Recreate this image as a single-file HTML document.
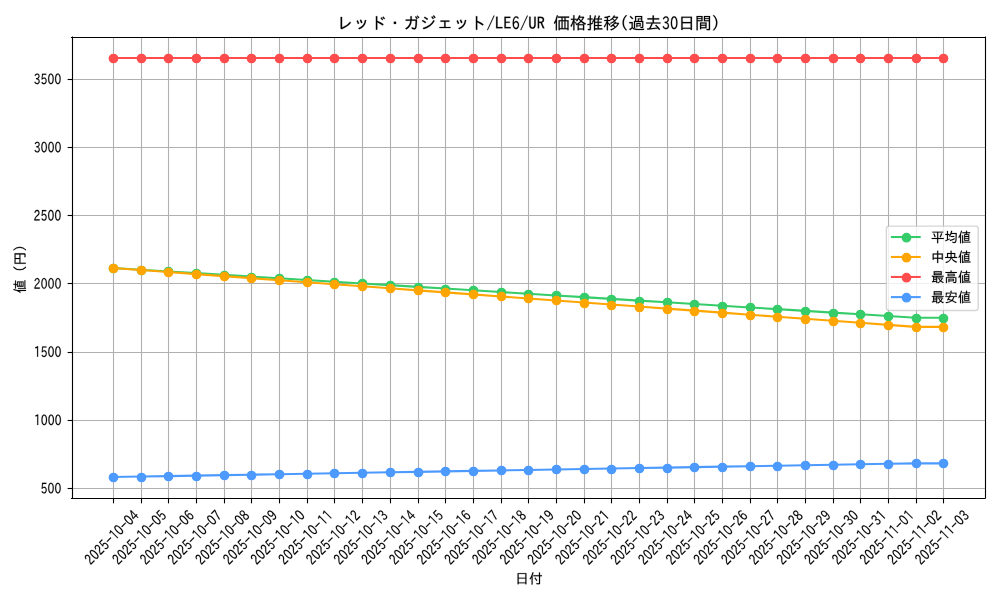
<!DOCTYPE html><html><head><meta charset="utf-8"><style>html,body{margin:0;padding:0;background:#fff;font-family:"Liberation Sans",sans-serif;}svg{display:block}g[id^="text_"] use{stroke:#000;stroke-width:80}</style></head><body><svg width="1000" height="600" viewBox="0 0 720 432" version="1.1"> <defs> <style type="text/css">*{stroke-linejoin: round; stroke-linecap: butt}</style> </defs> <g id="figure_1"> <g id="patch_1"> <path d="M 0 432 L 720 432 L 720 0 L 0 0 z " style="fill: #ffffff"/> </g> <g id="axes_1"> <g id="patch_2"> <path d="M 51.4944 358.56 L 709.1712 358.56 L 709.1712 26.640144 L 51.4944 26.640144 z " style="fill: #ffffff"/> </g> <g id="matplotlib.axis_1"> <g id="xtick_1"> <g id="line2d_1"> <path d="M 81.7200 358.56 L 81.7200 26.640144 " clip-path="url(#p025470a031)" style="fill: none; stroke: #b0b0b0; stroke-width: 0.8; stroke-linecap: square"/> </g> <g id="line2d_2"> <defs> <path id="m0153b6472b" d="M 0 0 L 0 3.5 " style="stroke: #000000; stroke-width: 0.8"/> </defs> <g> <use href="#m0153b6472b" x="81.7200" y="358.9200" style="stroke: #000000; stroke-width: 0.8"/> </g> </g> <g id="text_1"> <!-- 2025-10-04 --> <g transform="translate(65.2262 407.1366) rotate(-45) scale(0.1 -0.1)"> <defs> <path id="IPAGothic-32" d="M2795.75 65.625H354.25V623.4375Q641.625 1548.75 1453.875 2313.28125L1589.25 2437.96875Q2004.875 2831.71875 2135.5 3051.5625Q2285.125 3307.5 2285.125 3615.9375Q2285.125 3957.1875 2109.375 4200.0Q1914.625 4469.0625 1598.75 4469.0625Q964.625 4469.0625 767.5 3494.53125L392.25 3681.5625Q663.0 4961.25 1622.5 4961.25Q2147.375 4961.25 2458.5 4531.40625Q2731.625 4144.21875 2731.625 3596.25Q2731.625 3189.375 2555.875 2857.96875Q2394.375 2536.40625 1812.5 2034.375L1710.375 1949.0625Q969.375 1315.78125 758.0 597.1875H2795.75Z" transform="scale(0.015625)"/> <path id="IPAGothic-30" d="M1617.0 4961.25Q2258.25 4961.25 2602.625 4140.9375Q2875.75 3491.25 2875.75 2460.9375Q2875.75 1440.46875 2602.625 777.65625Q2263.0 -32.8125 1600.375 -32.8125Q940.125 -32.8125 600.5 777.65625Q327.375 1440.46875 327.375 2467.5Q327.375 3898.125 828.5 4551.09375Q1146.75 4961.25 1617.0 4961.25ZM1600.375 4475.625Q1220.375 4475.625 1001.875 3944.0625Q778.625 3405.9375 778.625 2457.65625Q778.625 1529.0625 997.125 994.21875Q1218.0 469.21875 1600.375 469.21875Q2058.75 469.21875 2279.625 1207.5Q2424.5 1702.96875 2424.5 2493.75Q2424.5 3415.78125 2201.25 3944.0625Q1975.625 4475.625 1600.375 4475.625Z" transform="scale(0.015625)"/> <path id="IPAGothic-35" d="M953.75 2733.28125Q1300.5 3110.625 1709.0 3110.625Q2198.25 3110.625 2521.25 2654.53125Q2822.875 2218.125 2822.875 1571.71875Q2822.875 984.375 2564.0 538.125Q2238.625 -32.8125 1602.125 -32.8125Q787.5 -32.8125 414.625 823.59375L770.875 1079.53125Q1053.5 456.09375 1587.875 456.09375Q1932.25 456.09375 2162.625 751.40625Q2400.125 1063.125 2400.125 1578.28125Q2400.125 2063.90625 2191.125 2352.65625Q1972.625 2654.53125 1621.125 2654.53125Q1127.125 2654.53125 873.0 2129.53125L507.25 2195.15625L730.5 4866.09375H2647.125V4360.78125H1077.25L920.5 2733.28125Z" transform="scale(0.015625)"/> <path id="IPAGothic-2d" d="M 313 2663 L 2884 2663 L 2884 2203 L 313 2203 L 313 2663 z " transform="scale(0.015625)"/> <path id="IPAGothic-31" d="M2030.375 65.625H1602.875V4308.28125Q1201.5 4117.96875 757.375 3986.71875L679.0 4442.8125Q1315.5 4662.65625 1759.625 4964.53125H2030.375Z" transform="scale(0.015625)"/> <path id="IPAGothic-34" d="M2973.9375 1217.34375H2399.1875V65.625H2009.6875V1217.34375H226.0625V1755.46875L1940.8125 4912.03125H2399.1875V1716.09375H2973.9375ZM2033.4375 4314.84375H2019.1875Q1807.8125 3842.34375 1596.4375 3448.59375L653.5625 1716.09375H2009.6875V3300.9375Q2009.6875 3645.46875 2033.4375 4314.84375Z" transform="scale(0.015625)"/> </defs> <use href="#IPAGothic-32"/> <use href="#IPAGothic-30" transform="translate(50 0)"/> <use href="#IPAGothic-32" transform="translate(100 0)"/> <use href="#IPAGothic-35" transform="translate(150 0)"/> <use href="#IPAGothic-2d" transform="translate(200 0)"/> <use href="#IPAGothic-31" transform="translate(250 0)"/> <use href="#IPAGothic-30" transform="translate(300 0)"/> <use href="#IPAGothic-2d" transform="translate(350 0)"/> <use href="#IPAGothic-30" transform="translate(400 0)"/> <use href="#IPAGothic-34" transform="translate(450 0)"/> </g> </g> </g> <g id="xtick_2"> <g id="line2d_3"> <path d="M 101.8800 358.56 L 101.8800 26.640144 " clip-path="url(#p025470a031)" style="fill: none; stroke: #b0b0b0; stroke-width: 0.8; stroke-linecap: square"/> </g> <g id="line2d_4"> <g> <use href="#m0153b6472b" x="101.8800" y="358.9200" style="stroke: #000000; stroke-width: 0.8"/> </g> </g> <g id="text_2"> <!-- 2025-10-05 --> <g transform="translate(85.1558 407.1366) rotate(-45) scale(0.1 -0.1)"> <use href="#IPAGothic-32"/> <use href="#IPAGothic-30" transform="translate(50 0)"/> <use href="#IPAGothic-32" transform="translate(100 0)"/> <use href="#IPAGothic-35" transform="translate(150 0)"/> <use href="#IPAGothic-2d" transform="translate(200 0)"/> <use href="#IPAGothic-31" transform="translate(250 0)"/> <use href="#IPAGothic-30" transform="translate(300 0)"/> <use href="#IPAGothic-2d" transform="translate(350 0)"/> <use href="#IPAGothic-30" transform="translate(400 0)"/> <use href="#IPAGothic-35" transform="translate(450 0)"/> </g> </g> </g> <g id="xtick_3"> <g id="line2d_5"> <path d="M 121.3200 358.56 L 121.3200 26.640144 " clip-path="url(#p025470a031)" style="fill: none; stroke: #b0b0b0; stroke-width: 0.8; stroke-linecap: square"/> </g> <g id="line2d_6"> <g> <use href="#m0153b6472b" x="121.3200" y="358.9200" style="stroke: #000000; stroke-width: 0.8"/> </g> </g> <g id="text_3"> <!-- 2025-10-06 --> <g transform="translate(105.0854 407.1366) rotate(-45) scale(0.1 -0.1)"> <defs> <path id="IPAGothic-36" d="M834.3125 2444.53125Q1178.6875 3130.3125 1729.6875 3130.3125Q2240.3125 3130.3125 2551.4375 2638.125Q2824.5625 2211.5625 2824.5625 1597.96875Q2824.5625 928.59375 2518.1875 456.09375Q2199.9375 -32.8125 1686.9375 -32.8125Q1076.5625 -32.8125 732.1875 610.3125Q397.3125 1237.03125 397.3125 2339.53125Q397.3125 3596.25 801.0625 4314.84375Q1166.8125 4961.25 1758.1875 4961.25Q2456.4375 4961.25 2774.6875 4226.25L2425.5625 3963.75Q2230.8125 4475.625 1779.5625 4475.625Q881.8125 4475.625 815.3125 2444.53125ZM1658.4375 2674.21875Q1311.6875 2674.21875 1083.6875 2316.5625Q879.4375 1995.0 879.4375 1617.65625Q879.4375 1214.0625 1059.9375 885.9375Q1302.1875 449.53125 1672.6875 449.53125Q2059.8125 449.53125 2266.4375 885.9375Q2406.5625 1184.53125 2406.5625 1578.28125Q2406.5625 2040.9375 2221.3125 2339.53125Q2007.5625 2674.21875 1658.4375 2674.21875Z" transform="scale(0.015625)"/> </defs> <use href="#IPAGothic-32"/> <use href="#IPAGothic-30" transform="translate(50 0)"/> <use href="#IPAGothic-32" transform="translate(100 0)"/> <use href="#IPAGothic-35" transform="translate(150 0)"/> <use href="#IPAGothic-2d" transform="translate(200 0)"/> <use href="#IPAGothic-31" transform="translate(250 0)"/> <use href="#IPAGothic-30" transform="translate(300 0)"/> <use href="#IPAGothic-2d" transform="translate(350 0)"/> <use href="#IPAGothic-30" transform="translate(400 0)"/> <use href="#IPAGothic-36" transform="translate(450 0)"/> </g> </g> </g> <g id="xtick_4"> <g id="line2d_7"> <path d="M 141.4800 358.56 L 141.4800 26.640144 " clip-path="url(#p025470a031)" style="fill: none; stroke: #b0b0b0; stroke-width: 0.8; stroke-linecap: square"/> </g> <g id="line2d_8"> <g> <use href="#m0153b6472b" x="141.4800" y="358.9200" style="stroke: #000000; stroke-width: 0.8"/> </g> </g> <g id="text_4"> <!-- 2025-10-07 --> <g transform="translate(125.0150 407.1366) rotate(-45) scale(0.1 -0.1)"> <defs> <path id="IPAGothic-37" d="M2802.5625 4475.625Q1769.4375 2211.5625 1420.3125 65.625H928.6875Q1273.0625 1929.375 2310.9375 4334.53125H394.3125V4866.09375H2802.5625Z" transform="scale(0.015625)"/> </defs> <use href="#IPAGothic-32"/> <use href="#IPAGothic-30" transform="translate(50 0)"/> <use href="#IPAGothic-32" transform="translate(100 0)"/> <use href="#IPAGothic-35" transform="translate(150 0)"/> <use href="#IPAGothic-2d" transform="translate(200 0)"/> <use href="#IPAGothic-31" transform="translate(250 0)"/> <use href="#IPAGothic-30" transform="translate(300 0)"/> <use href="#IPAGothic-2d" transform="translate(350 0)"/> <use href="#IPAGothic-30" transform="translate(400 0)"/> <use href="#IPAGothic-37" transform="translate(450 0)"/> </g> </g> </g> <g id="xtick_5"> <g id="line2d_9"> <path d="M 161.6400 358.56 L 161.6400 26.640144 " clip-path="url(#p025470a031)" style="fill: none; stroke: #b0b0b0; stroke-width: 0.8; stroke-linecap: square"/> </g> <g id="line2d_10"> <g> <use href="#m0153b6472b" x="161.6400" y="358.9200" style="stroke: #000000; stroke-width: 0.8"/> </g> </g> <g id="text_5"> <!-- 2025-10-08 --> <g transform="translate(144.9446 407.1366) rotate(-45) scale(0.1 -0.1)"> <defs> <path id="IPAGothic-38" d="M1994.625 2546.25Q2875.75 2132.8125 2875.75 1256.71875Q2875.75 567.65625 2419.75 206.71875Q2087.25 -59.0625 1595.625 -59.0625Q1101.625 -59.0625 769.125 206.71875Q327.375 557.8125 327.375 1237.03125Q327.375 2086.875 1134.875 2500.3125V2520.0Q429.5 2871.09375 429.5 3681.5625Q429.5 4305.0 809.5 4679.0625Q1132.5 4994.0625 1598.0 4994.0625Q2118.125 4994.0625 2443.5 4623.28125Q2764.125 4272.1875 2764.125 3743.90625Q2764.125 2841.5625 1994.625 2565.9375ZM1602.75 2756.25Q2341.375 2999.0625 2341.375 3704.53125Q2341.375 4111.40625 2096.75 4357.5Q1897.25 4564.21875 1595.625 4564.21875Q1284.5 4564.21875 1075.5 4334.53125Q861.75 4091.71875 861.75 3694.6875Q861.75 3304.21875 1092.125 3071.25Q1199.0 2949.84375 1372.375 2854.6875Q1552.875 2752.96875 1595.625 2752.96875Q1598.0 2752.96875 1602.75 2756.25ZM1567.125 2316.5625Q764.375 2024.53125 764.375 1276.40625Q764.375 813.75 1061.25 584.0625Q1284.5 410.15625 1590.875 410.15625Q2020.75 410.15625 2253.5 731.71875Q2424.5 967.96875 2424.5 1309.21875Q2424.5 1670.15625 2184.625 1939.21875Q2046.875 2090.15625 1849.75 2201.71875Q1638.375 2316.5625 1576.625 2316.5625Q1571.875 2316.5625 1567.125 2316.5625Z" transform="scale(0.015625)"/> </defs> <use href="#IPAGothic-32"/> <use href="#IPAGothic-30" transform="translate(50 0)"/> <use href="#IPAGothic-32" transform="translate(100 0)"/> <use href="#IPAGothic-35" transform="translate(150 0)"/> <use href="#IPAGothic-2d" transform="translate(200 0)"/> <use href="#IPAGothic-31" transform="translate(250 0)"/> <use href="#IPAGothic-30" transform="translate(300 0)"/> <use href="#IPAGothic-2d" transform="translate(350 0)"/> <use href="#IPAGothic-30" transform="translate(400 0)"/> <use href="#IPAGothic-38" transform="translate(450 0)"/> </g> </g> </g> <g id="xtick_6"> <g id="line2d_11"> <path d="M 181.0800 358.56 L 181.0800 26.640144 " clip-path="url(#p025470a031)" style="fill: none; stroke: #b0b0b0; stroke-width: 0.8; stroke-linecap: square"/> </g> <g id="line2d_12"> <g> <use href="#m0153b6472b" x="181.0800" y="358.9200" style="stroke: #000000; stroke-width: 0.8"/> </g> </g> <g id="text_6"> <!-- 2025-10-09 --> <g transform="translate(164.9060 407.0730) rotate(-45) scale(0.1 -0.1)"> <defs> <path id="IPAGothic-39" d="M2393.8125 2474.0625Q2058.9375 1801.40625 1503.1875 1801.40625Q1078.0625 1801.40625 769.3125 2159.0625Q403.5625 2582.34375 403.5625 3320.625Q403.5625 4003.125 709.9375 4478.90625Q1023.4375 4961.25 1545.9375 4961.25Q2253.6875 4961.25 2588.5625 4147.5Q2830.8125 3547.03125 2830.8125 2595.46875Q2830.8125 1312.5 2436.5625 616.875Q2066.0625 -32.8125 1469.9375 -32.8125Q778.8125 -32.8125 422.5625 738.28125L774.0625 1000.78125Q1004.4375 449.53125 1458.0625 449.53125Q2346.3125 449.53125 2412.8125 2474.0625ZM1560.1875 4492.03125Q1227.6875 4492.03125 1016.3125 4147.5Q826.3125 3835.78125 826.3125 3360.0Q826.3125 2877.65625 1006.8125 2602.03125Q1215.8125 2270.625 1574.4375 2270.625Q1973.4375 2270.625 2199.0625 2700.46875Q2348.6875 2989.21875 2348.6875 3327.1875Q2348.6875 3730.78125 2172.9375 4055.625Q1930.6875 4492.03125 1560.1875 4492.03125Z" transform="scale(0.015625)"/> </defs> <use href="#IPAGothic-32"/> <use href="#IPAGothic-30" transform="translate(50 0)"/> <use href="#IPAGothic-32" transform="translate(100 0)"/> <use href="#IPAGothic-35" transform="translate(150 0)"/> <use href="#IPAGothic-2d" transform="translate(200 0)"/> <use href="#IPAGothic-31" transform="translate(250 0)"/> <use href="#IPAGothic-30" transform="translate(300 0)"/> <use href="#IPAGothic-2d" transform="translate(350 0)"/> <use href="#IPAGothic-30" transform="translate(400 0)"/> <use href="#IPAGothic-39" transform="translate(450 0)"/> </g> </g> </g> <g id="xtick_7"> <g id="line2d_13"> <path d="M 201.2400 358.56 L 201.2400 26.640144 " clip-path="url(#p025470a031)" style="fill: none; stroke: #b0b0b0; stroke-width: 0.8; stroke-linecap: square"/> </g> <g id="line2d_14"> <g> <use href="#m0153b6472b" x="201.2400" y="358.9200" style="stroke: #000000; stroke-width: 0.8"/> </g> </g> <g id="text_7"> <!-- 2025-10-10 --> <g transform="translate(184.8356 407.0730) rotate(-45) scale(0.1 -0.1)"> <use href="#IPAGothic-32"/> <use href="#IPAGothic-30" transform="translate(50 0)"/> <use href="#IPAGothic-32" transform="translate(100 0)"/> <use href="#IPAGothic-35" transform="translate(150 0)"/> <use href="#IPAGothic-2d" transform="translate(200 0)"/> <use href="#IPAGothic-31" transform="translate(250 0)"/> <use href="#IPAGothic-30" transform="translate(300 0)"/> <use href="#IPAGothic-2d" transform="translate(350 0)"/> <use href="#IPAGothic-31" transform="translate(400 0)"/> <use href="#IPAGothic-30" transform="translate(450 0)"/> </g> </g> </g> <g id="xtick_8"> <g id="line2d_15"> <path d="M 221.4000 358.56 L 221.4000 26.640144 " clip-path="url(#p025470a031)" style="fill: none; stroke: #b0b0b0; stroke-width: 0.8; stroke-linecap: square"/> </g> <g id="line2d_16"> <g> <use href="#m0153b6472b" x="221.4000" y="358.9200" style="stroke: #000000; stroke-width: 0.8"/> </g> </g> <g id="text_8"> <!-- 2025-10-11 --> <g transform="translate(204.7652 407.0730) rotate(-45) scale(0.1 -0.1)"> <use href="#IPAGothic-32"/> <use href="#IPAGothic-30" transform="translate(50 0)"/> <use href="#IPAGothic-32" transform="translate(100 0)"/> <use href="#IPAGothic-35" transform="translate(150 0)"/> <use href="#IPAGothic-2d" transform="translate(200 0)"/> <use href="#IPAGothic-31" transform="translate(250 0)"/> <use href="#IPAGothic-30" transform="translate(300 0)"/> <use href="#IPAGothic-2d" transform="translate(350 0)"/> <use href="#IPAGothic-31" transform="translate(400 0)"/> <use href="#IPAGothic-31" transform="translate(450 0)"/> </g> </g> </g> <g id="xtick_9"> <g id="line2d_17"> <path d="M 240.8400 358.56 L 240.8400 26.640144 " clip-path="url(#p025470a031)" style="fill: none; stroke: #b0b0b0; stroke-width: 0.8; stroke-linecap: square"/> </g> <g id="line2d_18"> <g> <use href="#m0153b6472b" x="240.8400" y="358.9200" style="stroke: #000000; stroke-width: 0.8"/> </g> </g> <g id="text_9"> <!-- 2025-10-12 --> <g transform="translate(224.6630 407.1366) rotate(-45) scale(0.1 -0.1)"> <use href="#IPAGothic-32"/> <use href="#IPAGothic-30" transform="translate(50 0)"/> <use href="#IPAGothic-32" transform="translate(100 0)"/> <use href="#IPAGothic-35" transform="translate(150 0)"/> <use href="#IPAGothic-2d" transform="translate(200 0)"/> <use href="#IPAGothic-31" transform="translate(250 0)"/> <use href="#IPAGothic-30" transform="translate(300 0)"/> <use href="#IPAGothic-2d" transform="translate(350 0)"/> <use href="#IPAGothic-31" transform="translate(400 0)"/> <use href="#IPAGothic-32" transform="translate(450 0)"/> </g> </g> </g> <g id="xtick_10"> <g id="line2d_19"> <path d="M 261.0000 358.56 L 261.0000 26.640144 " clip-path="url(#p025470a031)" style="fill: none; stroke: #b0b0b0; stroke-width: 0.8; stroke-linecap: square"/> </g> <g id="line2d_20"> <g> <use href="#m0153b6472b" x="261.0000" y="358.9200" style="stroke: #000000; stroke-width: 0.8"/> </g> </g> <g id="text_10"> <!-- 2025-10-13 --> <g transform="translate(244.5926 407.1366) rotate(-45) scale(0.1 -0.1)"> <defs> <path id="IPAGothic-33" d="M1961.875 2539.6875Q2816.875 2329.6875 2816.875 1345.3125Q2816.875 751.40625 2529.5 377.34375Q2211.25 -32.8125 1629.375 -32.8125Q757.75 -32.8125 370.625 925.3125L726.875 1187.8125Q995.25 462.65625 1624.625 462.65625Q1995.125 462.65625 2199.375 725.15625Q2394.125 974.53125 2394.125 1358.4375Q2394.125 1804.6875 2102.0 2077.03125Q1836.0 2326.40625 1401.375 2326.40625H1187.625V2802.1875H1410.875Q1847.875 2802.1875 2078.25 3031.875Q2325.25 3274.6875 2325.25 3684.84375Q2325.25 4131.09375 2047.375 4344.375Q1869.25 4492.03125 1619.875 4492.03125Q1090.25 4492.03125 838.5 3757.03125L482.25 3993.28125Q831.375 4961.25 1624.625 4961.25Q2125.75 4961.25 2436.875 4610.15625Q2748.0 4272.1875 2748.0 3711.09375Q2748.0 3179.53125 2446.375 2841.5625Q2251.625 2625.0 1961.875 2565.9375Z" transform="scale(0.015625)"/> </defs> <use href="#IPAGothic-32"/> <use href="#IPAGothic-30" transform="translate(50 0)"/> <use href="#IPAGothic-32" transform="translate(100 0)"/> <use href="#IPAGothic-35" transform="translate(150 0)"/> <use href="#IPAGothic-2d" transform="translate(200 0)"/> <use href="#IPAGothic-31" transform="translate(250 0)"/> <use href="#IPAGothic-30" transform="translate(300 0)"/> <use href="#IPAGothic-2d" transform="translate(350 0)"/> <use href="#IPAGothic-31" transform="translate(400 0)"/> <use href="#IPAGothic-33" transform="translate(450 0)"/> </g> </g> </g> <g id="xtick_11"> <g id="line2d_21"> <path d="M 281.1600 358.56 L 281.1600 26.640144 " clip-path="url(#p025470a031)" style="fill: none; stroke: #b0b0b0; stroke-width: 0.8; stroke-linecap: square"/> </g> <g id="line2d_22"> <g> <use href="#m0153b6472b" x="281.1600" y="358.9200" style="stroke: #000000; stroke-width: 0.8"/> </g> </g> <g id="text_11"> <!-- 2025-10-14 --> <g transform="translate(264.5222 407.1366) rotate(-45) scale(0.1 -0.1)"> <use href="#IPAGothic-32"/> <use href="#IPAGothic-30" transform="translate(50 0)"/> <use href="#IPAGothic-32" transform="translate(100 0)"/> <use href="#IPAGothic-35" transform="translate(150 0)"/> <use href="#IPAGothic-2d" transform="translate(200 0)"/> <use href="#IPAGothic-31" transform="translate(250 0)"/> <use href="#IPAGothic-30" transform="translate(300 0)"/> <use href="#IPAGothic-2d" transform="translate(350 0)"/> <use href="#IPAGothic-31" transform="translate(400 0)"/> <use href="#IPAGothic-34" transform="translate(450 0)"/> </g> </g> </g> <g id="xtick_12"> <g id="line2d_23"> <path d="M 301.3200 358.56 L 301.3200 26.640144 " clip-path="url(#p025470a031)" style="fill: none; stroke: #b0b0b0; stroke-width: 0.8; stroke-linecap: square"/> </g> <g id="line2d_24"> <g> <use href="#m0153b6472b" x="301.3200" y="358.9200" style="stroke: #000000; stroke-width: 0.8"/> </g> </g> <g id="text_12"> <!-- 2025-10-15 --> <g transform="translate(284.4518 407.1366) rotate(-45) scale(0.1 -0.1)"> <use href="#IPAGothic-32"/> <use href="#IPAGothic-30" transform="translate(50 0)"/> <use href="#IPAGothic-32" transform="translate(100 0)"/> <use href="#IPAGothic-35" transform="translate(150 0)"/> <use href="#IPAGothic-2d" transform="translate(200 0)"/> <use href="#IPAGothic-31" transform="translate(250 0)"/> <use href="#IPAGothic-30" transform="translate(300 0)"/> <use href="#IPAGothic-2d" transform="translate(350 0)"/> <use href="#IPAGothic-31" transform="translate(400 0)"/> <use href="#IPAGothic-35" transform="translate(450 0)"/> </g> </g> </g> <g id="xtick_13"> <g id="line2d_25"> <path d="M 320.7600 358.56 L 320.7600 26.640144 " clip-path="url(#p025470a031)" style="fill: none; stroke: #b0b0b0; stroke-width: 0.8; stroke-linecap: square"/> </g> <g id="line2d_26"> <g> <use href="#m0153b6472b" x="320.7600" y="358.9200" style="stroke: #000000; stroke-width: 0.8"/> </g> </g> <g id="text_13"> <!-- 2025-10-16 --> <g transform="translate(304.3814 407.1366) rotate(-45) scale(0.1 -0.1)"> <use href="#IPAGothic-32"/> <use href="#IPAGothic-30" transform="translate(50 0)"/> <use href="#IPAGothic-32" transform="translate(100 0)"/> <use href="#IPAGothic-35" transform="translate(150 0)"/> <use href="#IPAGothic-2d" transform="translate(200 0)"/> <use href="#IPAGothic-31" transform="translate(250 0)"/> <use href="#IPAGothic-30" transform="translate(300 0)"/> <use href="#IPAGothic-2d" transform="translate(350 0)"/> <use href="#IPAGothic-31" transform="translate(400 0)"/> <use href="#IPAGothic-36" transform="translate(450 0)"/> </g> </g> </g> <g id="xtick_14"> <g id="line2d_27"> <path d="M 340.9200 358.56 L 340.9200 26.640144 " clip-path="url(#p025470a031)" style="fill: none; stroke: #b0b0b0; stroke-width: 0.8; stroke-linecap: square"/> </g> <g id="line2d_28"> <g> <use href="#m0153b6472b" x="340.9200" y="358.9200" style="stroke: #000000; stroke-width: 0.8"/> </g> </g> <g id="text_14"> <!-- 2025-10-17 --> <g transform="translate(324.3110 407.1366) rotate(-45) scale(0.1 -0.1)"> <use href="#IPAGothic-32"/> <use href="#IPAGothic-30" transform="translate(50 0)"/> <use href="#IPAGothic-32" transform="translate(100 0)"/> <use href="#IPAGothic-35" transform="translate(150 0)"/> <use href="#IPAGothic-2d" transform="translate(200 0)"/> <use href="#IPAGothic-31" transform="translate(250 0)"/> <use href="#IPAGothic-30" transform="translate(300 0)"/> <use href="#IPAGothic-2d" transform="translate(350 0)"/> <use href="#IPAGothic-31" transform="translate(400 0)"/> <use href="#IPAGothic-37" transform="translate(450 0)"/> </g> </g> </g> <g id="xtick_15"> <g id="line2d_29"> <path d="M 361.0800 358.56 L 361.0800 26.640144 " clip-path="url(#p025470a031)" style="fill: none; stroke: #b0b0b0; stroke-width: 0.8; stroke-linecap: square"/> </g> <g id="line2d_30"> <g> <use href="#m0153b6472b" x="361.0800" y="358.9200" style="stroke: #000000; stroke-width: 0.8"/> </g> </g> <g id="text_15"> <!-- 2025-10-18 --> <g transform="translate(344.2406 407.1366) rotate(-45) scale(0.1 -0.1)"> <use href="#IPAGothic-32"/> <use href="#IPAGothic-30" transform="translate(50 0)"/> <use href="#IPAGothic-32" transform="translate(100 0)"/> <use href="#IPAGothic-35" transform="translate(150 0)"/> <use href="#IPAGothic-2d" transform="translate(200 0)"/> <use href="#IPAGothic-31" transform="translate(250 0)"/> <use href="#IPAGothic-30" transform="translate(300 0)"/> <use href="#IPAGothic-2d" transform="translate(350 0)"/> <use href="#IPAGothic-31" transform="translate(400 0)"/> <use href="#IPAGothic-38" transform="translate(450 0)"/> </g> </g> </g> <g id="xtick_16"> <g id="line2d_31"> <path d="M 380.5200 358.56 L 380.5200 26.640144 " clip-path="url(#p025470a031)" style="fill: none; stroke: #b0b0b0; stroke-width: 0.8; stroke-linecap: square"/> </g> <g id="line2d_32"> <g> <use href="#m0153b6472b" x="380.5200" y="358.9200" style="stroke: #000000; stroke-width: 0.8"/> </g> </g> <g id="text_16"> <!-- 2025-10-19 --> <g transform="translate(364.2020 407.0730) rotate(-45) scale(0.1 -0.1)"> <use href="#IPAGothic-32"/> <use href="#IPAGothic-30" transform="translate(50 0)"/> <use href="#IPAGothic-32" transform="translate(100 0)"/> <use href="#IPAGothic-35" transform="translate(150 0)"/> <use href="#IPAGothic-2d" transform="translate(200 0)"/> <use href="#IPAGothic-31" transform="translate(250 0)"/> <use href="#IPAGothic-30" transform="translate(300 0)"/> <use href="#IPAGothic-2d" transform="translate(350 0)"/> <use href="#IPAGothic-31" transform="translate(400 0)"/> <use href="#IPAGothic-39" transform="translate(450 0)"/> </g> </g> </g> <g id="xtick_17"> <g id="line2d_33"> <path d="M 400.6800 358.56 L 400.6800 26.640144 " clip-path="url(#p025470a031)" style="fill: none; stroke: #b0b0b0; stroke-width: 0.8; stroke-linecap: square"/> </g> <g id="line2d_34"> <g> <use href="#m0153b6472b" x="400.6800" y="358.9200" style="stroke: #000000; stroke-width: 0.8"/> </g> </g> <g id="text_17"> <!-- 2025-10-20 --> <g transform="translate(384.0998 407.1366) rotate(-45) scale(0.1 -0.1)"> <use href="#IPAGothic-32"/> <use href="#IPAGothic-30" transform="translate(50 0)"/> <use href="#IPAGothic-32" transform="translate(100 0)"/> <use href="#IPAGothic-35" transform="translate(150 0)"/> <use href="#IPAGothic-2d" transform="translate(200 0)"/> <use href="#IPAGothic-31" transform="translate(250 0)"/> <use href="#IPAGothic-30" transform="translate(300 0)"/> <use href="#IPAGothic-2d" transform="translate(350 0)"/> <use href="#IPAGothic-32" transform="translate(400 0)"/> <use href="#IPAGothic-30" transform="translate(450 0)"/> </g> </g> </g> <g id="xtick_18"> <g id="line2d_35"> <path d="M 420.8400 358.56 L 420.8400 26.640144 " clip-path="url(#p025470a031)" style="fill: none; stroke: #b0b0b0; stroke-width: 0.8; stroke-linecap: square"/> </g> <g id="line2d_36"> <g> <use href="#m0153b6472b" x="420.8400" y="358.9200" style="stroke: #000000; stroke-width: 0.8"/> </g> </g> <g id="text_18"> <!-- 2025-10-21 --> <g transform="translate(404.0294 407.1366) rotate(-45) scale(0.1 -0.1)"> <use href="#IPAGothic-32"/> <use href="#IPAGothic-30" transform="translate(50 0)"/> <use href="#IPAGothic-32" transform="translate(100 0)"/> <use href="#IPAGothic-35" transform="translate(150 0)"/> <use href="#IPAGothic-2d" transform="translate(200 0)"/> <use href="#IPAGothic-31" transform="translate(250 0)"/> <use href="#IPAGothic-30" transform="translate(300 0)"/> <use href="#IPAGothic-2d" transform="translate(350 0)"/> <use href="#IPAGothic-32" transform="translate(400 0)"/> <use href="#IPAGothic-31" transform="translate(450 0)"/> </g> </g> </g> <g id="xtick_19"> <g id="line2d_37"> <path d="M 440.2800 358.56 L 440.2800 26.640144 " clip-path="url(#p025470a031)" style="fill: none; stroke: #b0b0b0; stroke-width: 0.8; stroke-linecap: square"/> </g> <g id="line2d_38"> <g> <use href="#m0153b6472b" x="440.2800" y="358.9200" style="stroke: #000000; stroke-width: 0.8"/> </g> </g> <g id="text_19"> <!-- 2025-10-22 --> <g transform="translate(423.9272 407.2003) rotate(-45) scale(0.1 -0.1)"> <use href="#IPAGothic-32"/> <use href="#IPAGothic-30" transform="translate(50 0)"/> <use href="#IPAGothic-32" transform="translate(100 0)"/> <use href="#IPAGothic-35" transform="translate(150 0)"/> <use href="#IPAGothic-2d" transform="translate(200 0)"/> <use href="#IPAGothic-31" transform="translate(250 0)"/> <use href="#IPAGothic-30" transform="translate(300 0)"/> <use href="#IPAGothic-2d" transform="translate(350 0)"/> <use href="#IPAGothic-32" transform="translate(400 0)"/> <use href="#IPAGothic-32" transform="translate(450 0)"/> </g> </g> </g> <g id="xtick_20"> <g id="line2d_39"> <path d="M 460.4400 358.56 L 460.4400 26.640144 " clip-path="url(#p025470a031)" style="fill: none; stroke: #b0b0b0; stroke-width: 0.8; stroke-linecap: square"/> </g> <g id="line2d_40"> <g> <use href="#m0153b6472b" x="460.4400" y="358.9200" style="stroke: #000000; stroke-width: 0.8"/> </g> </g> <g id="text_20"> <!-- 2025-10-23 --> <g transform="translate(443.8568 407.2003) rotate(-45) scale(0.1 -0.1)"> <use href="#IPAGothic-32"/> <use href="#IPAGothic-30" transform="translate(50 0)"/> <use href="#IPAGothic-32" transform="translate(100 0)"/> <use href="#IPAGothic-35" transform="translate(150 0)"/> <use href="#IPAGothic-2d" transform="translate(200 0)"/> <use href="#IPAGothic-31" transform="translate(250 0)"/> <use href="#IPAGothic-30" transform="translate(300 0)"/> <use href="#IPAGothic-2d" transform="translate(350 0)"/> <use href="#IPAGothic-32" transform="translate(400 0)"/> <use href="#IPAGothic-33" transform="translate(450 0)"/> </g> </g> </g> <g id="xtick_21"> <g id="line2d_41"> <path d="M 480.6000 358.56 L 480.6000 26.640144 " clip-path="url(#p025470a031)" style="fill: none; stroke: #b0b0b0; stroke-width: 0.8; stroke-linecap: square"/> </g> <g id="line2d_42"> <g> <use href="#m0153b6472b" x="480.6000" y="358.9200" style="stroke: #000000; stroke-width: 0.8"/> </g> </g> <g id="text_21"> <!-- 2025-10-24 --> <g transform="translate(463.7864 407.2003) rotate(-45) scale(0.1 -0.1)"> <use href="#IPAGothic-32"/> <use href="#IPAGothic-30" transform="translate(50 0)"/> <use href="#IPAGothic-32" transform="translate(100 0)"/> <use href="#IPAGothic-35" transform="translate(150 0)"/> <use href="#IPAGothic-2d" transform="translate(200 0)"/> <use href="#IPAGothic-31" transform="translate(250 0)"/> <use href="#IPAGothic-30" transform="translate(300 0)"/> <use href="#IPAGothic-2d" transform="translate(350 0)"/> <use href="#IPAGothic-32" transform="translate(400 0)"/> <use href="#IPAGothic-34" transform="translate(450 0)"/> </g> </g> </g> <g id="xtick_22"> <g id="line2d_43"> <path d="M 500.0400 358.56 L 500.0400 26.640144 " clip-path="url(#p025470a031)" style="fill: none; stroke: #b0b0b0; stroke-width: 0.8; stroke-linecap: square"/> </g> <g id="line2d_44"> <g> <use href="#m0153b6472b" x="500.0400" y="358.9200" style="stroke: #000000; stroke-width: 0.8"/> </g> </g> <g id="text_22"> <!-- 2025-10-25 --> <g transform="translate(483.7160 407.2003) rotate(-45) scale(0.1 -0.1)"> <use href="#IPAGothic-32"/> <use href="#IPAGothic-30" transform="translate(50 0)"/> <use href="#IPAGothic-32" transform="translate(100 0)"/> <use href="#IPAGothic-35" transform="translate(150 0)"/> <use href="#IPAGothic-2d" transform="translate(200 0)"/> <use href="#IPAGothic-31" transform="translate(250 0)"/> <use href="#IPAGothic-30" transform="translate(300 0)"/> <use href="#IPAGothic-2d" transform="translate(350 0)"/> <use href="#IPAGothic-32" transform="translate(400 0)"/> <use href="#IPAGothic-35" transform="translate(450 0)"/> </g> </g> </g> <g id="xtick_23"> <g id="line2d_45"> <path d="M 520.2000 358.56 L 520.2000 26.640144 " clip-path="url(#p025470a031)" style="fill: none; stroke: #b0b0b0; stroke-width: 0.8; stroke-linecap: square"/> </g> <g id="line2d_46"> <g> <use href="#m0153b6472b" x="520.2000" y="358.9200" style="stroke: #000000; stroke-width: 0.8"/> </g> </g> <g id="text_23"> <!-- 2025-10-26 --> <g transform="translate(503.6456 407.2003) rotate(-45) scale(0.1 -0.1)"> <use href="#IPAGothic-32"/> <use href="#IPAGothic-30" transform="translate(50 0)"/> <use href="#IPAGothic-32" transform="translate(100 0)"/> <use href="#IPAGothic-35" transform="translate(150 0)"/> <use href="#IPAGothic-2d" transform="translate(200 0)"/> <use href="#IPAGothic-31" transform="translate(250 0)"/> <use href="#IPAGothic-30" transform="translate(300 0)"/> <use href="#IPAGothic-2d" transform="translate(350 0)"/> <use href="#IPAGothic-32" transform="translate(400 0)"/> <use href="#IPAGothic-36" transform="translate(450 0)"/> </g> </g> </g> <g id="xtick_24"> <g id="line2d_47"> <path d="M 540.3600 358.56 L 540.3600 26.640144 " clip-path="url(#p025470a031)" style="fill: none; stroke: #b0b0b0; stroke-width: 0.8; stroke-linecap: square"/> </g> <g id="line2d_48"> <g> <use href="#m0153b6472b" x="540.3600" y="358.9200" style="stroke: #000000; stroke-width: 0.8"/> </g> </g> <g id="text_24"> <!-- 2025-10-27 --> <g transform="translate(523.5752 407.2003) rotate(-45) scale(0.1 -0.1)"> <use href="#IPAGothic-32"/> <use href="#IPAGothic-30" transform="translate(50 0)"/> <use href="#IPAGothic-32" transform="translate(100 0)"/> <use href="#IPAGothic-35" transform="translate(150 0)"/> <use href="#IPAGothic-2d" transform="translate(200 0)"/> <use href="#IPAGothic-31" transform="translate(250 0)"/> <use href="#IPAGothic-30" transform="translate(300 0)"/> <use href="#IPAGothic-2d" transform="translate(350 0)"/> <use href="#IPAGothic-32" transform="translate(400 0)"/> <use href="#IPAGothic-37" transform="translate(450 0)"/> </g> </g> </g> <g id="xtick_25"> <g id="line2d_49"> <path d="M 559.8000 358.56 L 559.8000 26.640144 " clip-path="url(#p025470a031)" style="fill: none; stroke: #b0b0b0; stroke-width: 0.8; stroke-linecap: square"/> </g> <g id="line2d_50"> <g> <use href="#m0153b6472b" x="559.8000" y="358.9200" style="stroke: #000000; stroke-width: 0.8"/> </g> </g> <g id="text_25"> <!-- 2025-10-28 --> <g transform="translate(543.5048 407.2003) rotate(-45) scale(0.1 -0.1)"> <use href="#IPAGothic-32"/> <use href="#IPAGothic-30" transform="translate(50 0)"/> <use href="#IPAGothic-32" transform="translate(100 0)"/> <use href="#IPAGothic-35" transform="translate(150 0)"/> <use href="#IPAGothic-2d" transform="translate(200 0)"/> <use href="#IPAGothic-31" transform="translate(250 0)"/> <use href="#IPAGothic-30" transform="translate(300 0)"/> <use href="#IPAGothic-2d" transform="translate(350 0)"/> <use href="#IPAGothic-32" transform="translate(400 0)"/> <use href="#IPAGothic-38" transform="translate(450 0)"/> </g> </g> </g> <g id="xtick_26"> <g id="line2d_51"> <path d="M 579.9600 358.56 L 579.9600 26.640144 " clip-path="url(#p025470a031)" style="fill: none; stroke: #b0b0b0; stroke-width: 0.8; stroke-linecap: square"/> </g> <g id="line2d_52"> <g> <use href="#m0153b6472b" x="579.9600" y="358.9200" style="stroke: #000000; stroke-width: 0.8"/> </g> </g> <g id="text_26"> <!-- 2025-10-29 --> <g transform="translate(563.4662 407.1366) rotate(-45) scale(0.1 -0.1)"> <use href="#IPAGothic-32"/> <use href="#IPAGothic-30" transform="translate(50 0)"/> <use href="#IPAGothic-32" transform="translate(100 0)"/> <use href="#IPAGothic-35" transform="translate(150 0)"/> <use href="#IPAGothic-2d" transform="translate(200 0)"/> <use href="#IPAGothic-31" transform="translate(250 0)"/> <use href="#IPAGothic-30" transform="translate(300 0)"/> <use href="#IPAGothic-2d" transform="translate(350 0)"/> <use href="#IPAGothic-32" transform="translate(400 0)"/> <use href="#IPAGothic-39" transform="translate(450 0)"/> </g> </g> </g> <g id="xtick_27"> <g id="line2d_53"> <path d="M 600.1200 358.56 L 600.1200 26.640144 " clip-path="url(#p025470a031)" style="fill: none; stroke: #b0b0b0; stroke-width: 0.8; stroke-linecap: square"/> </g> <g id="line2d_54"> <g> <use href="#m0153b6472b" x="600.1200" y="358.9200" style="stroke: #000000; stroke-width: 0.8"/> </g> </g> <g id="text_27"> <!-- 2025-10-30 --> <g transform="translate(583.3958 407.1366) rotate(-45) scale(0.1 -0.1)"> <use href="#IPAGothic-32"/> <use href="#IPAGothic-30" transform="translate(50 0)"/> <use href="#IPAGothic-32" transform="translate(100 0)"/> <use href="#IPAGothic-35" transform="translate(150 0)"/> <use href="#IPAGothic-2d" transform="translate(200 0)"/> <use href="#IPAGothic-31" transform="translate(250 0)"/> <use href="#IPAGothic-30" transform="translate(300 0)"/> <use href="#IPAGothic-2d" transform="translate(350 0)"/> <use href="#IPAGothic-33" transform="translate(400 0)"/> <use href="#IPAGothic-30" transform="translate(450 0)"/> </g> </g> </g> <g id="xtick_28"> <g id="line2d_55"> <path d="M 619.5600 358.56 L 619.5600 26.640144 " clip-path="url(#p025470a031)" style="fill: none; stroke: #b0b0b0; stroke-width: 0.8; stroke-linecap: square"/> </g> <g id="line2d_56"> <g> <use href="#m0153b6472b" x="619.5600" y="358.9200" style="stroke: #000000; stroke-width: 0.8"/> </g> </g> <g id="text_28"> <!-- 2025-10-31 --> <g transform="translate(603.3254 407.1366) rotate(-45) scale(0.1 -0.1)"> <use href="#IPAGothic-32"/> <use href="#IPAGothic-30" transform="translate(50 0)"/> <use href="#IPAGothic-32" transform="translate(100 0)"/> <use href="#IPAGothic-35" transform="translate(150 0)"/> <use href="#IPAGothic-2d" transform="translate(200 0)"/> <use href="#IPAGothic-31" transform="translate(250 0)"/> <use href="#IPAGothic-30" transform="translate(300 0)"/> <use href="#IPAGothic-2d" transform="translate(350 0)"/> <use href="#IPAGothic-33" transform="translate(400 0)"/> <use href="#IPAGothic-31" transform="translate(450 0)"/> </g> </g> </g> <g id="xtick_29"> <g id="line2d_57"> <path d="M 639.7200 358.56 L 639.7200 26.640144 " clip-path="url(#p025470a031)" style="fill: none; stroke: #b0b0b0; stroke-width: 0.8; stroke-linecap: square"/> </g> <g id="line2d_58"> <g> <use href="#m0153b6472b" x="639.7200" y="358.9200" style="stroke: #000000; stroke-width: 0.8"/> </g> </g> <g id="text_29"> <!-- 2025-11-01 --> <g transform="translate(623.2868 407.0730) rotate(-45) scale(0.1 -0.1)"> <use href="#IPAGothic-32"/> <use href="#IPAGothic-30" transform="translate(50 0)"/> <use href="#IPAGothic-32" transform="translate(100 0)"/> <use href="#IPAGothic-35" transform="translate(150 0)"/> <use href="#IPAGothic-2d" transform="translate(200 0)"/> <use href="#IPAGothic-31" transform="translate(250 0)"/> <use href="#IPAGothic-31" transform="translate(300 0)"/> <use href="#IPAGothic-2d" transform="translate(350 0)"/> <use href="#IPAGothic-30" transform="translate(400 0)"/> <use href="#IPAGothic-31" transform="translate(450 0)"/> </g> </g> </g> <g id="xtick_30"> <g id="line2d_59"> <path d="M 659.8800 358.56 L 659.8800 26.640144 " clip-path="url(#p025470a031)" style="fill: none; stroke: #b0b0b0; stroke-width: 0.8; stroke-linecap: square"/> </g> <g id="line2d_60"> <g> <use href="#m0153b6472b" x="659.8800" y="358.9200" style="stroke: #000000; stroke-width: 0.8"/> </g> </g> <g id="text_30"> <!-- 2025-11-02 --> <g transform="translate(643.1846 407.1366) rotate(-45) scale(0.1 -0.1)"> <use href="#IPAGothic-32"/> <use href="#IPAGothic-30" transform="translate(50 0)"/> <use href="#IPAGothic-32" transform="translate(100 0)"/> <use href="#IPAGothic-35" transform="translate(150 0)"/> <use href="#IPAGothic-2d" transform="translate(200 0)"/> <use href="#IPAGothic-31" transform="translate(250 0)"/> <use href="#IPAGothic-31" transform="translate(300 0)"/> <use href="#IPAGothic-2d" transform="translate(350 0)"/> <use href="#IPAGothic-30" transform="translate(400 0)"/> <use href="#IPAGothic-32" transform="translate(450 0)"/> </g> </g> </g> <g id="xtick_31"> <g id="line2d_61"> <path d="M 679.3200 358.56 L 679.3200 26.640144 " clip-path="url(#p025470a031)" style="fill: none; stroke: #b0b0b0; stroke-width: 0.8; stroke-linecap: square"/> </g> <g id="line2d_62"> <g> <use href="#m0153b6472b" x="679.3200" y="358.9200" style="stroke: #000000; stroke-width: 0.8"/> </g> </g> <g id="text_31"> <!-- 2025-11-03 --> <g transform="translate(663.1142 407.1366) rotate(-45) scale(0.1 -0.1)"> <use href="#IPAGothic-32"/> <use href="#IPAGothic-30" transform="translate(50 0)"/> <use href="#IPAGothic-32" transform="translate(100 0)"/> <use href="#IPAGothic-35" transform="translate(150 0)"/> <use href="#IPAGothic-2d" transform="translate(200 0)"/> <use href="#IPAGothic-31" transform="translate(250 0)"/> <use href="#IPAGothic-31" transform="translate(300 0)"/> <use href="#IPAGothic-2d" transform="translate(350 0)"/> <use href="#IPAGothic-30" transform="translate(400 0)"/> <use href="#IPAGothic-33" transform="translate(450 0)"/> </g> </g> </g> <g id="text_32"> <!-- 日付 --> <g transform="translate(370.8468 420.1896) scale(0.1 -0.1)"> <defs> <path id="IPAGothic-65e5" d="M 5231 4800 L 5231 -288 L 4744 -288 L 4744 128 L 1647 128 L 1647 -288 L 1159 -288 L 1159 4800 L 5231 4800 z M 1647 4372 L 1647 2731 L 4744 2731 L 4744 4372 L 1647 4372 z M 1647 2297 L 1647 556 L 4744 556 L 4744 2297 L 1647 2297 z " transform="scale(0.015625)"/> <path id="IPAGothic-4ed8" d="M 1681 3772 L 1681 -447 L 1213 -447 L 1213 2825 Q 913 2316 578 1863 L 316 2253 Q 1241 3463 1653 5184 L 2128 5069 Q 1928 4378 1719 3859 L 1681 3772 z M 5084 3816 L 5994 3816 L 5994 3388 L 5109 3388 L 5109 213 Q 5109 -78 5006 -191 Q 4888 -319 4525 -319 Q 4031 -319 3516 -266 L 3431 238 Q 3978 141 4403 141 Q 4634 141 4634 384 L 4634 3388 L 2031 3388 L 2031 3816 L 4609 3816 L 4609 5153 L 5084 5153 L 5084 3816 z M 3431 1172 Q 3034 1994 2547 2566 L 2931 2822 Q 3428 2231 3853 1472 L 3431 1172 z " transform="scale(0.015625)"/> </defs> <use href="#IPAGothic-65e5"/> <use href="#IPAGothic-4ed8" transform="translate(100 0)"/> </g> </g> </g> <g id="matplotlib.axis_2"> <g id="ytick_1"> <g id="line2d_63"> <path d="M 51.4944 351.7200 L 709.1712 351.7200 " clip-path="url(#p025470a031)" style="fill: none; stroke: #b0b0b0; stroke-width: 0.8; stroke-linecap: square"/> </g> <g id="line2d_64"> <defs> <path id="me98d3a163d" d="M 0 0 L -3.5 0 " style="stroke: #000000; stroke-width: 0.8"/> </defs> <g> <use href="#me98d3a163d" x="52.2000" y="351.7200" style="stroke: #000000; stroke-width: 0.8"/> </g> </g> <g id="text_33"> <!-- 500 --> <g transform="translate(29.1944 355.2436) scale(0.1 -0.1)"> <use href="#IPAGothic-35"/> <use href="#IPAGothic-30" transform="translate(50 0)"/> <use href="#IPAGothic-30" transform="translate(100 0)"/> </g> </g> </g> <g id="ytick_2"> <g id="line2d_65"> <path d="M 51.4944 302.7600 L 709.1712 302.7600 " clip-path="url(#p025470a031)" style="fill: none; stroke: #b0b0b0; stroke-width: 0.8; stroke-linecap: square"/> </g> <g id="line2d_66"> <g> <use href="#me98d3a163d" x="52.2000" y="302.7600" style="stroke: #000000; stroke-width: 0.8"/> </g> </g> <g id="text_34"> <!-- 1000 --> <g transform="translate(24.3344 306.1394) scale(0.1 -0.1)"> <use href="#IPAGothic-31"/> <use href="#IPAGothic-30" transform="translate(50 0)"/> <use href="#IPAGothic-30" transform="translate(100 0)"/> <use href="#IPAGothic-30" transform="translate(150 0)"/> </g> </g> </g> <g id="ytick_3"> <g id="line2d_67"> <path d="M 51.4944 253.8000 L 709.1712 253.8000 " clip-path="url(#p025470a031)" style="fill: none; stroke: #b0b0b0; stroke-width: 0.8; stroke-linecap: square"/> </g> <g id="line2d_68"> <g> <use href="#me98d3a163d" x="52.2000" y="253.8000" style="stroke: #000000; stroke-width: 0.8"/> </g> </g> <g id="text_35"> <!-- 1500 --> <g transform="translate(24.2444 257.0352) scale(0.1 -0.1)"> <use href="#IPAGothic-31"/> <use href="#IPAGothic-35" transform="translate(50 0)"/> <use href="#IPAGothic-30" transform="translate(100 0)"/> <use href="#IPAGothic-30" transform="translate(150 0)"/> </g> </g> </g> <g id="ytick_4"> <g id="line2d_69"> <path d="M 51.4944 204.1200 L 709.1712 204.1200 " clip-path="url(#p025470a031)" style="fill: none; stroke: #b0b0b0; stroke-width: 0.8; stroke-linecap: square"/> </g> <g id="line2d_70"> <g> <use href="#me98d3a163d" x="52.2000" y="204.1200" style="stroke: #000000; stroke-width: 0.8"/> </g> </g> <g id="text_36"> <!-- 2000 --> <g transform="translate(24.2444 207.9310) scale(0.1 -0.1)"> <use href="#IPAGothic-32"/> <use href="#IPAGothic-30" transform="translate(50 0)"/> <use href="#IPAGothic-30" transform="translate(100 0)"/> <use href="#IPAGothic-30" transform="translate(150 0)"/> </g> </g> </g> <g id="ytick_5"> <g id="line2d_71"> <path d="M 51.4944 155.1600 L 709.1712 155.1600 " clip-path="url(#p025470a031)" style="fill: none; stroke: #b0b0b0; stroke-width: 0.8; stroke-linecap: square"/> </g> <g id="line2d_72"> <g> <use href="#me98d3a163d" x="52.2000" y="155.1600" style="stroke: #000000; stroke-width: 0.8"/> </g> </g> <g id="text_37"> <!-- 2500 --> <g transform="translate(24.1544 158.8268) scale(0.1 -0.1)"> <use href="#IPAGothic-32"/> <use href="#IPAGothic-35" transform="translate(50 0)"/> <use href="#IPAGothic-30" transform="translate(100 0)"/> <use href="#IPAGothic-30" transform="translate(150 0)"/> </g> </g> </g> <g id="ytick_6"> <g id="line2d_73"> <path d="M 51.4944 106.2000 L 709.1712 106.2000 " clip-path="url(#p025470a031)" style="fill: none; stroke: #b0b0b0; stroke-width: 0.8; stroke-linecap: square"/> </g> <g id="line2d_74"> <g> <use href="#me98d3a163d" x="52.2000" y="106.2000" style="stroke: #000000; stroke-width: 0.8"/> </g> </g> <g id="text_38"> <!-- 3000 --> <g transform="translate(24.2444 109.7226) scale(0.1 -0.1)"> <use href="#IPAGothic-33"/> <use href="#IPAGothic-30" transform="translate(50 0)"/> <use href="#IPAGothic-30" transform="translate(100 0)"/> <use href="#IPAGothic-30" transform="translate(150 0)"/> </g> </g> </g> <g id="ytick_7"> <g id="line2d_75"> <path d="M 51.4944 57.2400 L 709.1712 57.2400 " clip-path="url(#p025470a031)" style="fill: none; stroke: #b0b0b0; stroke-width: 0.8; stroke-linecap: square"/> </g> <g id="line2d_76"> <g> <use href="#me98d3a163d" x="52.2000" y="57.2400" style="stroke: #000000; stroke-width: 0.8"/> </g> </g> <g id="text_39"> <!-- 3500 --> <g transform="translate(24.1544 60.6184) scale(0.1 -0.1)"> <use href="#IPAGothic-33"/> <use href="#IPAGothic-35" transform="translate(50 0)"/> <use href="#IPAGothic-30" transform="translate(100 0)"/> <use href="#IPAGothic-30" transform="translate(150 0)"/> </g> </g> </g> <g id="text_40"> <!-- 値 (円) --> <g transform="translate(17.9944 211.1581) rotate(-90) scale(0.1 -0.1)"> <defs> <path id="IPAGothic-5024" d="M 4172 3675 L 5453 3675 L 5453 684 L 3019 684 L 3019 3675 L 3747 3675 Q 3788 3884 3825 4153 L 2144 4153 L 2144 4544 L 3881 4544 Q 3922 4841 3966 5325 L 4434 5272 L 4391 4953 Q 4331 4578 4331 4544 L 5863 4544 L 5863 4153 L 4269 4153 Q 4200 3781 4172 3675 z M 5038 3316 L 3434 3316 L 3434 2803 L 5038 2803 L 5038 3316 z M 3434 2450 L 3434 1941 L 5038 1941 L 5038 2450 L 3434 2450 z M 3434 1588 L 3434 1044 L 5038 1044 L 5038 1588 L 3434 1588 z M 1509 3669 L 1509 -447 L 1069 -447 L 1069 2728 Q 856 2338 531 1875 L 288 2266 Q 1163 3534 1541 5325 L 1975 5225 Q 1791 4378 1509 3669 z M 2488 244 L 6034 244 L 6034 -153 L 2488 -153 L 2488 -447 L 2059 -447 L 2059 3213 L 2488 3213 L 2488 244 z " transform="scale(0.015625)"/> <path id="IPAGothic-20" transform="scale(0.015625)"/> <path id="IPAGothic-28" d="M 2219 -434 Q 997 769 997 2441 Q 997 4097 2219 5300 L 2719 5300 Q 1478 4078 1478 2425 Q 1478 788 2719 -434 L 2219 -434 z " transform="scale(0.015625)"/> <path id="IPAGothic-5186" d="M 5594 4806 L 5594 319 Q 5594 34 5491 -97 Q 5366 -269 4959 -269 Q 4469 -269 3897 -225 L 3809 275 Q 4384 206 4844 206 Q 5106 206 5106 434 L 5106 2119 L 1281 2119 L 1281 -359 L 794 -359 L 794 4806 L 5594 4806 z M 1281 4366 L 1281 2547 L 2944 2547 L 2944 4366 L 1281 4366 z M 5106 2547 L 5106 4366 L 3413 4366 L 3413 2547 L 5106 2547 z " transform="scale(0.015625)"/> <path id="IPAGothic-29" d="M 481 -434 Q 1722 788 1722 2434 Q 1722 4069 481 5300 L 981 5300 Q 2203 4097 2203 2434 Q 2203 769 981 -434 L 481 -434 z " transform="scale(0.015625)"/> </defs> <use href="#IPAGothic-5024"/> <use href="#IPAGothic-20" transform="translate(100 0)"/> <use href="#IPAGothic-28" transform="translate(150 0)"/> <use href="#IPAGothic-5186" transform="translate(200 0)"/> <use href="#IPAGothic-29" transform="translate(300 0)"/> </g> </g> </g> <g id="line2d_77"> <path d="M 81.3888 192.968354 L 101.3184 194.202732 L 121.248 195.43711 L 141.1776 196.671488 L 161.1072 197.905866 L 181.0368 199.140244 L 200.9664 200.374622 L 220.896 201.609 L 240.8256 202.843378 L 260.7552 204.077756 L 280.6848 205.312134 L 300.6144 206.546512 L 320.544 207.78089 L 340.4736 209.015268 L 360.4032 210.249646 L 380.3328 211.484024 L 400.2624 212.718402 L 420.192 213.95278 L 440.1216 215.187158 L 460.0512 216.421537 L 479.9808 217.655915 L 499.9104 218.890293 L 519.84 220.124671 L 539.7696 221.359049 L 559.6992 222.593427 L 579.6288 223.827805 L 599.5584 225.062183 L 619.488 226.296561 L 639.4176 227.530939 L 659.3472 228.765317 L 679.2768 228.765317 " clip-path="url(#p025470a031)" style="fill: none; stroke: #36cc6a; stroke-width: 1.5; stroke-linecap: square"/> <defs> <path id="m75a8e90659" d="M 0 3 C 0.795609 3 1.55874 2.683901 2.12132 2.12132 C 2.683901 1.55874 3 0.795609 3 0 C 3 -0.795609 2.683901 -1.55874 2.12132 -2.12132 C 1.55874 -2.683901 0.795609 -3 0 -3 C -0.795609 -3 -1.55874 -2.683901 -2.12132 -2.12132 C -2.683901 -1.55874 -3 -0.795609 -3 0 C -3 0.795609 -2.683901 1.55874 -2.12132 2.12132 C -1.55874 2.683901 -0.795609 3 0 3 z " style="stroke: #36cc6a"/> </defs> <g clip-path="url(#p025470a031)"> <use href="#m75a8e90659" x="81.7200" y="193.3200" style="fill: #36cc6a; stroke: #36cc6a"/> <use href="#m75a8e90659" x="101.8800" y="194.7600" style="fill: #36cc6a; stroke: #36cc6a"/> <use href="#m75a8e90659" x="121.3200" y="195.4800" style="fill: #36cc6a; stroke: #36cc6a"/> <use href="#m75a8e90659" x="141.4800" y="196.9200" style="fill: #36cc6a; stroke: #36cc6a"/> <use href="#m75a8e90659" x="161.6400" y="198.3600" style="fill: #36cc6a; stroke: #36cc6a"/> <use href="#m75a8e90659" x="181.0800" y="199.8000" style="fill: #36cc6a; stroke: #36cc6a"/> <use href="#m75a8e90659" x="201.2400" y="200.5200" style="fill: #36cc6a; stroke: #36cc6a"/> <use href="#m75a8e90659" x="221.4000" y="201.9600" style="fill: #36cc6a; stroke: #36cc6a"/> <use href="#m75a8e90659" x="240.8400" y="203.4000" style="fill: #36cc6a; stroke: #36cc6a"/> <use href="#m75a8e90659" x="261.0000" y="204.1200" style="fill: #36cc6a; stroke: #36cc6a"/> <use href="#m75a8e90659" x="281.1600" y="205.5600" style="fill: #36cc6a; stroke: #36cc6a"/> <use href="#m75a8e90659" x="301.3200" y="207.0000" style="fill: #36cc6a; stroke: #36cc6a"/> <use href="#m75a8e90659" x="320.7600" y="208.4400" style="fill: #36cc6a; stroke: #36cc6a"/> <use href="#m75a8e90659" x="340.9200" y="209.1600" style="fill: #36cc6a; stroke: #36cc6a"/> <use href="#m75a8e90659" x="361.0800" y="210.6000" style="fill: #36cc6a; stroke: #36cc6a"/> <use href="#m75a8e90659" x="380.5200" y="212.0400" style="fill: #36cc6a; stroke: #36cc6a"/> <use href="#m75a8e90659" x="400.6800" y="212.7600" style="fill: #36cc6a; stroke: #36cc6a"/> <use href="#m75a8e90659" x="420.8400" y="214.2000" style="fill: #36cc6a; stroke: #36cc6a"/> <use href="#m75a8e90659" x="440.2800" y="215.6400" style="fill: #36cc6a; stroke: #36cc6a"/> <use href="#m75a8e90659" x="460.4400" y="217.0800" style="fill: #36cc6a; stroke: #36cc6a"/> <use href="#m75a8e90659" x="480.6000" y="217.8000" style="fill: #36cc6a; stroke: #36cc6a"/> <use href="#m75a8e90659" x="500.0400" y="219.2400" style="fill: #36cc6a; stroke: #36cc6a"/> <use href="#m75a8e90659" x="520.2000" y="220.6800" style="fill: #36cc6a; stroke: #36cc6a"/> <use href="#m75a8e90659" x="540.3600" y="221.4000" style="fill: #36cc6a; stroke: #36cc6a"/> <use href="#m75a8e90659" x="559.8000" y="222.8400" style="fill: #36cc6a; stroke: #36cc6a"/> <use href="#m75a8e90659" x="579.9600" y="224.2800" style="fill: #36cc6a; stroke: #36cc6a"/> <use href="#m75a8e90659" x="600.1200" y="225.7200" style="fill: #36cc6a; stroke: #36cc6a"/> <use href="#m75a8e90659" x="619.5600" y="226.4400" style="fill: #36cc6a; stroke: #36cc6a"/> <use href="#m75a8e90659" x="639.7200" y="227.8800" style="fill: #36cc6a; stroke: #36cc6a"/> <use href="#m75a8e90659" x="659.8800" y="229.3200" style="fill: #36cc6a; stroke: #36cc6a"/> <use href="#m75a8e90659" x="679.3200" y="229.3200" style="fill: #36cc6a; stroke: #36cc6a"/> </g> </g> <g id="line2d_78"> <path d="M 81.3888 192.968354 L 101.3184 194.429627 L 121.248 195.8909 L 141.1776 197.352174 L 161.1072 198.813447 L 181.0368 200.27472 L 200.9664 201.735994 L 220.896 203.197267 L 240.8256 204.65854 L 260.7552 206.119814 L 280.6848 207.581087 L 300.6144 209.04236 L 320.544 210.503634 L 340.4736 211.964907 L 360.4032 213.42618 L 380.3328 214.887454 L 400.2624 216.348727 L 420.192 217.81 L 440.1216 219.271274 L 460.0512 220.732547 L 479.9808 222.19382 L 499.9104 223.655094 L 519.84 225.116367 L 539.7696 226.57764 L 559.6992 228.038914 L 579.6288 229.500187 L 599.5584 230.96146 L 619.488 232.422734 L 639.4176 233.884007 L 659.3472 235.34528 L 679.2768 235.34528 " clip-path="url(#p025470a031)" style="fill: none; stroke: #ffa500; stroke-width: 1.5; stroke-linecap: square"/> <defs> <path id="ma4aa80e419" d="M 0 3 C 0.795609 3 1.55874 2.683901 2.12132 2.12132 C 2.683901 1.55874 3 0.795609 3 0 C 3 -0.795609 2.683901 -1.55874 2.12132 -2.12132 C 1.55874 -2.683901 0.795609 -3 0 -3 C -0.795609 -3 -1.55874 -2.683901 -2.12132 -2.12132 C -2.683901 -1.55874 -3 -0.795609 -3 0 C -3 0.795609 -2.683901 1.55874 -2.12132 2.12132 C -1.55874 2.683901 -0.795609 3 0 3 z " style="stroke: #ffa500"/> </defs> <g clip-path="url(#p025470a031)"> <use href="#ma4aa80e419" x="81.7200" y="193.3200" style="fill: #ffa500; stroke: #ffa500"/> <use href="#ma4aa80e419" x="101.8800" y="194.7600" style="fill: #ffa500; stroke: #ffa500"/> <use href="#ma4aa80e419" x="121.3200" y="196.2000" style="fill: #ffa500; stroke: #ffa500"/> <use href="#ma4aa80e419" x="141.4800" y="197.6400" style="fill: #ffa500; stroke: #ffa500"/> <use href="#ma4aa80e419" x="161.6400" y="199.0800" style="fill: #ffa500; stroke: #ffa500"/> <use href="#ma4aa80e419" x="181.0800" y="200.5200" style="fill: #ffa500; stroke: #ffa500"/> <use href="#ma4aa80e419" x="201.2400" y="201.9600" style="fill: #ffa500; stroke: #ffa500"/> <use href="#ma4aa80e419" x="221.4000" y="203.4000" style="fill: #ffa500; stroke: #ffa500"/> <use href="#ma4aa80e419" x="240.8400" y="204.8400" style="fill: #ffa500; stroke: #ffa500"/> <use href="#ma4aa80e419" x="261.0000" y="206.2800" style="fill: #ffa500; stroke: #ffa500"/> <use href="#ma4aa80e419" x="281.1600" y="207.7200" style="fill: #ffa500; stroke: #ffa500"/> <use href="#ma4aa80e419" x="301.3200" y="209.1600" style="fill: #ffa500; stroke: #ffa500"/> <use href="#ma4aa80e419" x="320.7600" y="210.6000" style="fill: #ffa500; stroke: #ffa500"/> <use href="#ma4aa80e419" x="340.9200" y="212.0400" style="fill: #ffa500; stroke: #ffa500"/> <use href="#ma4aa80e419" x="361.0800" y="213.4800" style="fill: #ffa500; stroke: #ffa500"/> <use href="#ma4aa80e419" x="380.5200" y="214.9200" style="fill: #ffa500; stroke: #ffa500"/> <use href="#ma4aa80e419" x="400.6800" y="216.3600" style="fill: #ffa500; stroke: #ffa500"/> <use href="#ma4aa80e419" x="420.8400" y="218.5200" style="fill: #ffa500; stroke: #ffa500"/> <use href="#ma4aa80e419" x="440.2800" y="219.9600" style="fill: #ffa500; stroke: #ffa500"/> <use href="#ma4aa80e419" x="460.4400" y="221.4000" style="fill: #ffa500; stroke: #ffa500"/> <use href="#ma4aa80e419" x="480.6000" y="222.8400" style="fill: #ffa500; stroke: #ffa500"/> <use href="#ma4aa80e419" x="500.0400" y="224.2800" style="fill: #ffa500; stroke: #ffa500"/> <use href="#ma4aa80e419" x="520.2000" y="225.7200" style="fill: #ffa500; stroke: #ffa500"/> <use href="#ma4aa80e419" x="540.3600" y="227.1600" style="fill: #ffa500; stroke: #ffa500"/> <use href="#ma4aa80e419" x="559.8000" y="228.6000" style="fill: #ffa500; stroke: #ffa500"/> <use href="#ma4aa80e419" x="579.9600" y="230.0400" style="fill: #ffa500; stroke: #ffa500"/> <use href="#ma4aa80e419" x="600.1200" y="231.4800" style="fill: #ffa500; stroke: #ffa500"/> <use href="#ma4aa80e419" x="619.5600" y="232.9200" style="fill: #ffa500; stroke: #ffa500"/> <use href="#ma4aa80e419" x="639.7200" y="234.3600" style="fill: #ffa500; stroke: #ffa500"/> <use href="#ma4aa80e419" x="659.8800" y="235.8000" style="fill: #ffa500; stroke: #ffa500"/> <use href="#ma4aa80e419" x="679.3200" y="235.8000" style="fill: #ffa500; stroke: #ffa500"/> </g> </g> <g id="line2d_79"> <path d="M 81.3888 41.72741 L 101.3184 41.72741 L 121.248 41.72741 L 141.1776 41.72741 L 161.1072 41.72741 L 181.0368 41.72741 L 200.9664 41.72741 L 220.896 41.72741 L 240.8256 41.72741 L 260.7552 41.72741 L 280.6848 41.72741 L 300.6144 41.72741 L 320.544 41.72741 L 340.4736 41.72741 L 360.4032 41.72741 L 380.3328 41.72741 L 400.2624 41.72741 L 420.192 41.72741 L 440.1216 41.72741 L 460.0512 41.72741 L 479.9808 41.72741 L 499.9104 41.72741 L 519.84 41.72741 L 539.7696 41.72741 L 559.6992 41.72741 L 579.6288 41.72741 L 599.5584 41.72741 L 619.488 41.72741 L 639.4176 41.72741 L 659.3472 41.72741 L 679.2768 41.72741 " clip-path="url(#p025470a031)" style="fill: none; stroke: #ff4d4d; stroke-width: 1.5; stroke-linecap: square"/> <defs> <path id="m8326d739d1" d="M 0 3 C 0.795609 3 1.55874 2.683901 2.12132 2.12132 C 2.683901 1.55874 3 0.795609 3 0 C 3 -0.795609 2.683901 -1.55874 2.12132 -2.12132 C 1.55874 -2.683901 0.795609 -3 0 -3 C -0.795609 -3 -1.55874 -2.683901 -2.12132 -2.12132 C -2.683901 -1.55874 -3 -0.795609 -3 0 C -3 0.795609 -2.683901 1.55874 -2.12132 2.12132 C -1.55874 2.683901 -0.795609 3 0 3 z " style="stroke: #ff4d4d"/> </defs> <g clip-path="url(#p025470a031)"> <use href="#m8326d739d1" x="81.7200" y="42.1200" style="fill: #ff4d4d; stroke: #ff4d4d"/> <use href="#m8326d739d1" x="101.8800" y="42.1200" style="fill: #ff4d4d; stroke: #ff4d4d"/> <use href="#m8326d739d1" x="121.3200" y="42.1200" style="fill: #ff4d4d; stroke: #ff4d4d"/> <use href="#m8326d739d1" x="141.4800" y="42.1200" style="fill: #ff4d4d; stroke: #ff4d4d"/> <use href="#m8326d739d1" x="161.6400" y="42.1200" style="fill: #ff4d4d; stroke: #ff4d4d"/> <use href="#m8326d739d1" x="181.0800" y="42.1200" style="fill: #ff4d4d; stroke: #ff4d4d"/> <use href="#m8326d739d1" x="201.2400" y="42.1200" style="fill: #ff4d4d; stroke: #ff4d4d"/> <use href="#m8326d739d1" x="221.4000" y="42.1200" style="fill: #ff4d4d; stroke: #ff4d4d"/> <use href="#m8326d739d1" x="240.8400" y="42.1200" style="fill: #ff4d4d; stroke: #ff4d4d"/> <use href="#m8326d739d1" x="261.0000" y="42.1200" style="fill: #ff4d4d; stroke: #ff4d4d"/> <use href="#m8326d739d1" x="281.1600" y="42.1200" style="fill: #ff4d4d; stroke: #ff4d4d"/> <use href="#m8326d739d1" x="301.3200" y="42.1200" style="fill: #ff4d4d; stroke: #ff4d4d"/> <use href="#m8326d739d1" x="320.7600" y="42.1200" style="fill: #ff4d4d; stroke: #ff4d4d"/> <use href="#m8326d739d1" x="340.9200" y="42.1200" style="fill: #ff4d4d; stroke: #ff4d4d"/> <use href="#m8326d739d1" x="361.0800" y="42.1200" style="fill: #ff4d4d; stroke: #ff4d4d"/> <use href="#m8326d739d1" x="380.5200" y="42.1200" style="fill: #ff4d4d; stroke: #ff4d4d"/> <use href="#m8326d739d1" x="400.6800" y="42.1200" style="fill: #ff4d4d; stroke: #ff4d4d"/> <use href="#m8326d739d1" x="420.8400" y="42.1200" style="fill: #ff4d4d; stroke: #ff4d4d"/> <use href="#m8326d739d1" x="440.2800" y="42.1200" style="fill: #ff4d4d; stroke: #ff4d4d"/> <use href="#m8326d739d1" x="460.4400" y="42.1200" style="fill: #ff4d4d; stroke: #ff4d4d"/> <use href="#m8326d739d1" x="480.6000" y="42.1200" style="fill: #ff4d4d; stroke: #ff4d4d"/> <use href="#m8326d739d1" x="500.0400" y="42.1200" style="fill: #ff4d4d; stroke: #ff4d4d"/> <use href="#m8326d739d1" x="520.2000" y="42.1200" style="fill: #ff4d4d; stroke: #ff4d4d"/> <use href="#m8326d739d1" x="540.3600" y="42.1200" style="fill: #ff4d4d; stroke: #ff4d4d"/> <use href="#m8326d739d1" x="559.8000" y="42.1200" style="fill: #ff4d4d; stroke: #ff4d4d"/> <use href="#m8326d739d1" x="579.9600" y="42.1200" style="fill: #ff4d4d; stroke: #ff4d4d"/> <use href="#m8326d739d1" x="600.1200" y="42.1200" style="fill: #ff4d4d; stroke: #ff4d4d"/> <use href="#m8326d739d1" x="619.5600" y="42.1200" style="fill: #ff4d4d; stroke: #ff4d4d"/> <use href="#m8326d739d1" x="639.7200" y="42.1200" style="fill: #ff4d4d; stroke: #ff4d4d"/> <use href="#m8326d739d1" x="659.8800" y="42.1200" style="fill: #ff4d4d; stroke: #ff4d4d"/> <use href="#m8326d739d1" x="679.3200" y="42.1200" style="fill: #ff4d4d; stroke: #ff4d4d"/> </g> </g> <g id="line2d_80"> <path d="M 81.3888 343.472734 L 101.3184 343.132391 L 121.248 342.792048 L 141.1776 342.451705 L 161.1072 342.111362 L 181.0368 341.771019 L 200.9664 341.430676 L 220.896 341.090333 L 240.8256 340.74999 L 260.7552 340.409648 L 280.6848 340.069305 L 300.6144 339.728962 L 320.544 339.388619 L 340.4736 339.048276 L 360.4032 338.707933 L 380.3328 338.36759 L 400.2624 338.027247 L 420.192 337.686904 L 440.1216 337.346561 L 460.0512 337.006218 L 479.9808 336.665875 L 499.9104 336.325532 L 519.84 335.98519 L 539.7696 335.644847 L 559.6992 335.304504 L 579.6288 334.964161 L 599.5584 334.623818 L 619.488 334.283475 L 639.4176 333.943132 L 659.3472 333.602789 L 679.2768 333.602789 " clip-path="url(#p025470a031)" style="fill: none; stroke: #4d9aff; stroke-width: 1.5; stroke-linecap: square"/> <defs> <path id="m189335c1d6" d="M 0 3 C 0.795609 3 1.55874 2.683901 2.12132 2.12132 C 2.683901 1.55874 3 0.795609 3 0 C 3 -0.795609 2.683901 -1.55874 2.12132 -2.12132 C 1.55874 -2.683901 0.795609 -3 0 -3 C -0.795609 -3 -1.55874 -2.683901 -2.12132 -2.12132 C -2.683901 -1.55874 -3 -0.795609 -3 0 C -3 0.795609 -2.683901 1.55874 -2.12132 2.12132 C -1.55874 2.683901 -0.795609 3 0 3 z " style="stroke: #4d9aff"/> </defs> <g clip-path="url(#p025470a031)"> <use href="#m189335c1d6" x="81.7200" y="343.8000" style="fill: #4d9aff; stroke: #4d9aff"/> <use href="#m189335c1d6" x="101.8800" y="343.8000" style="fill: #4d9aff; stroke: #4d9aff"/> <use href="#m189335c1d6" x="121.3200" y="343.0800" style="fill: #4d9aff; stroke: #4d9aff"/> <use href="#m189335c1d6" x="141.4800" y="343.0800" style="fill: #4d9aff; stroke: #4d9aff"/> <use href="#m189335c1d6" x="161.6400" y="342.3600" style="fill: #4d9aff; stroke: #4d9aff"/> <use href="#m189335c1d6" x="181.0800" y="342.3600" style="fill: #4d9aff; stroke: #4d9aff"/> <use href="#m189335c1d6" x="201.2400" y="341.6400" style="fill: #4d9aff; stroke: #4d9aff"/> <use href="#m189335c1d6" x="221.4000" y="341.6400" style="fill: #4d9aff; stroke: #4d9aff"/> <use href="#m189335c1d6" x="240.8400" y="340.9200" style="fill: #4d9aff; stroke: #4d9aff"/> <use href="#m189335c1d6" x="261.0000" y="340.9200" style="fill: #4d9aff; stroke: #4d9aff"/> <use href="#m189335c1d6" x="281.1600" y="340.2000" style="fill: #4d9aff; stroke: #4d9aff"/> <use href="#m189335c1d6" x="301.3200" y="340.2000" style="fill: #4d9aff; stroke: #4d9aff"/> <use href="#m189335c1d6" x="320.7600" y="339.4800" style="fill: #4d9aff; stroke: #4d9aff"/> <use href="#m189335c1d6" x="340.9200" y="339.4800" style="fill: #4d9aff; stroke: #4d9aff"/> <use href="#m189335c1d6" x="361.0800" y="338.7600" style="fill: #4d9aff; stroke: #4d9aff"/> <use href="#m189335c1d6" x="380.5200" y="338.7600" style="fill: #4d9aff; stroke: #4d9aff"/> <use href="#m189335c1d6" x="400.6800" y="338.0400" style="fill: #4d9aff; stroke: #4d9aff"/> <use href="#m189335c1d6" x="420.8400" y="338.0400" style="fill: #4d9aff; stroke: #4d9aff"/> <use href="#m189335c1d6" x="440.2800" y="338.0400" style="fill: #4d9aff; stroke: #4d9aff"/> <use href="#m189335c1d6" x="460.4400" y="337.3200" style="fill: #4d9aff; stroke: #4d9aff"/> <use href="#m189335c1d6" x="480.6000" y="337.3200" style="fill: #4d9aff; stroke: #4d9aff"/> <use href="#m189335c1d6" x="500.0400" y="336.6000" style="fill: #4d9aff; stroke: #4d9aff"/> <use href="#m189335c1d6" x="520.2000" y="336.6000" style="fill: #4d9aff; stroke: #4d9aff"/> <use href="#m189335c1d6" x="540.3600" y="335.8800" style="fill: #4d9aff; stroke: #4d9aff"/> <use href="#m189335c1d6" x="559.8000" y="335.8800" style="fill: #4d9aff; stroke: #4d9aff"/> <use href="#m189335c1d6" x="579.9600" y="335.1600" style="fill: #4d9aff; stroke: #4d9aff"/> <use href="#m189335c1d6" x="600.1200" y="335.1600" style="fill: #4d9aff; stroke: #4d9aff"/> <use href="#m189335c1d6" x="619.5600" y="334.4400" style="fill: #4d9aff; stroke: #4d9aff"/> <use href="#m189335c1d6" x="639.7200" y="334.4400" style="fill: #4d9aff; stroke: #4d9aff"/> <use href="#m189335c1d6" x="659.8800" y="333.7200" style="fill: #4d9aff; stroke: #4d9aff"/> <use href="#m189335c1d6" x="679.3200" y="333.7200" style="fill: #4d9aff; stroke: #4d9aff"/> </g> </g> <g id="patch_3"> <path d="M 52.2000 358.56 L 52.2000 26.640144 " style="fill: none; stroke: #000000; stroke-width: 0.8; stroke-linejoin: miter; stroke-linecap: square"/> </g> <g id="patch_4"> <path d="M 709.5600 358.56 L 709.5600 26.640144 " style="fill: none; stroke: #000000; stroke-width: 0.8; stroke-linejoin: miter; stroke-linecap: square"/> </g> <g id="patch_5"> <path d="M 51.4944 358.9200 L 709.1712 358.9200 " style="fill: none; stroke: #000000; stroke-width: 0.8; stroke-linejoin: miter; stroke-linecap: square"/> </g> <g id="patch_6"> <path d="M 51.4944 27.0000 L 709.1712 27.0000 " style="fill: none; stroke: #000000; stroke-width: 0.8; stroke-linejoin: miter; stroke-linecap: square"/> </g> <g id="text_41"> <!-- レッド・ガジェット/LE6/UR 価格推移(過去30日間) --> <g transform="translate(242.3718 21.0001) scale(0.12 -0.12)"> <defs> <path id="IPAGothic-30ec" d="M 1538 4703 L 2094 4703 L 2094 628 Q 4059 1375 5172 2894 L 5478 2431 Q 4922 1678 3931 1019 Q 2919 334 1928 -31 L 1538 269 L 1538 4703 z " transform="scale(0.015625)"/> <path id="IPAGothic-30c3" d="M 1775 1984 Q 1553 2666 1275 3175 L 1716 3391 Q 2034 2866 2247 2209 L 1775 1984 z M 3003 2297 Q 2813 2978 2522 3469 L 2978 3681 Q 3291 3166 3484 2522 L 3003 2297 z M 1928 372 Q 3094 744 3731 1569 Q 4275 2263 4469 3525 L 4975 3406 Q 4734 1975 4016 1119 Q 3406 391 2266 -44 L 1928 372 z " transform="scale(0.015625)"/> <path id="IPAGothic-30c9" d="M 2284 4997 L 2803 4997 L 2803 3206 Q 4088 2619 5216 1888 L 4878 1369 Q 3816 2178 2803 2688 L 2803 -184 L 2284 -184 L 2284 4997 z M 4647 3463 Q 4397 3916 4069 4300 L 4409 4538 Q 4675 4263 5016 3706 L 4647 3463 z M 5388 3781 Q 5097 4281 4788 4588 L 5125 4819 Q 5463 4513 5759 4031 L 5388 3781 z " transform="scale(0.015625)"/> <path id="IPAGothic-30fb" d="M 2772 2859 L 3628 2859 L 3628 2003 L 2772 2003 L 2772 2859 z " transform="scale(0.015625)"/> <path id="IPAGothic-30ac" d="M 2734 4978 L 3247 4978 L 3247 3694 L 5250 3694 L 5250 3491 L 5250 3425 Q 5250 1334 5019 500 Q 4856 -84 4297 -84 Q 3788 -84 3247 172 L 3228 731 Q 3859 441 4200 441 Q 4484 441 4553 763 Q 4709 1478 4738 3234 L 3209 3234 Q 3025 906 1159 -134 L 769 263 Q 2519 1134 2703 3209 L 916 3209 L 916 3669 L 2734 3669 L 2734 4978 z M 5178 3853 Q 4866 4363 4506 4703 L 4847 4947 Q 5228 4591 5538 4122 L 5178 3853 z M 5831 4231 Q 5522 4697 5141 5044 L 5459 5288 Q 5819 4981 6178 4506 L 5831 4231 z " transform="scale(0.015625)"/> <path id="IPAGothic-30b8" d="M 2759 3525 Q 2150 4050 1544 4353 L 1844 4775 Q 2434 4484 3100 3975 L 2759 3525 z M 1094 494 Q 3875 1088 5269 3519 L 5619 3122 Q 4228 694 1416 -6 L 1094 494 z M 4947 3794 Q 4709 4294 4341 4691 L 4691 4922 Q 5038 4584 5325 4056 L 4947 3794 z M 2003 2272 Q 1397 2791 763 3103 L 1063 3531 Q 1738 3206 2338 2719 L 2003 2272 z M 5606 4213 Q 5341 4716 4988 5088 L 5344 5306 Q 5678 4981 5991 4459 L 5606 4213 z " transform="scale(0.015625)"/> <path id="IPAGothic-30a7" d="M 1503 3297 L 4891 3297 L 4891 2856 L 3419 2856 L 3419 850 L 5319 850 L 5319 403 L 1075 403 L 1075 850 L 2931 850 L 2931 2856 L 1503 2856 L 1503 3297 z " transform="scale(0.015625)"/> <path id="IPAGothic-30c8" d="M 2284 4997 L 2803 4997 L 2803 3206 Q 4088 2619 5216 1888 L 4878 1369 Q 3816 2178 2803 2688 L 2803 -184 L 2284 -184 L 2284 4997 z " transform="scale(0.015625)"/> <path id="IPAGothic-2f" d="M 2750 5259 L 3006 5147 L 441 -403 L 184 -288 L 2750 5259 z " transform="scale(0.015625)"/> <path id="IPAGothic-4c" d="M 447 4806 L 984 4806 L 984 838 L 2872 838 L 2872 325 L 447 325 L 447 4806 z " transform="scale(0.015625)"/> <path id="IPAGothic-45" d="M 447 4806 L 2694 4806 L 2694 4319 L 959 4319 L 959 2894 L 2463 2894 L 2463 2419 L 959 2419 L 959 813 L 2822 813 L 2822 325 L 447 325 L 447 4806 z " transform="scale(0.015625)"/> <path id="IPAGothic-55" d="M 372 4806 L 884 4806 L 884 1697 Q 884 678 1600 678 Q 2316 678 2316 1697 L 2316 4806 L 2828 4806 L 2828 1697 Q 2828 1053 2566 666 Q 2250 197 1600 197 Q 372 197 372 1697 L 372 4806 z " transform="scale(0.015625)"/> <path id="IPAGothic-52" d="M 447 4806 L 1556 4806 Q 2097 4806 2438 4563 Q 2872 4244 2872 3641 Q 2872 2759 2034 2500 L 2994 325 L 2406 325 L 1534 2416 L 947 2416 L 947 325 L 447 325 L 447 4806 z M 947 4331 L 947 2875 L 1484 2875 Q 1766 2875 1975 2991 Q 2359 3191 2359 3628 Q 2359 4331 1478 4331 L 947 4331 z " transform="scale(0.015625)"/> <path id="IPAGothic-4fa1" d="M 3144 3397 L 3144 4416 L 1831 4416 L 1831 4825 L 6081 4825 L 6081 4416 L 4713 4416 L 4713 3397 L 5850 3397 L 5850 -384 L 5416 -384 L 5416 0 L 2463 0 L 2463 -384 L 2034 -384 L 2034 3397 L 3144 3397 z M 3572 3397 L 4281 3397 L 4281 4416 L 3572 4416 L 3572 3397 z M 3169 3013 L 2463 3013 L 2463 391 L 3169 391 L 3169 3013 z M 3572 3013 L 3572 391 L 4281 391 L 4281 3013 L 3572 3013 z M 4684 3013 L 4684 391 L 5416 391 L 5416 3013 L 4684 3013 z M 1394 3816 L 1394 -447 L 966 -447 L 966 2797 Q 756 2369 478 1972 L 244 2369 Q 950 3472 1375 5313 L 1809 5203 Q 1588 4344 1394 3816 z " transform="scale(0.015625)"/> <path id="IPAGothic-683c" d="M 1281 2650 Q 978 1569 500 806 L 231 1269 Q 866 2141 1231 3584 L 366 3584 L 366 3988 L 1281 3988 L 1281 5306 L 1716 5306 L 1716 3988 L 2534 3988 L 2534 3584 L 1716 3584 L 1716 3072 Q 2163 2719 2572 2331 L 2328 1953 Q 2059 2291 1716 2625 L 1716 -447 L 1281 -447 L 1281 2650 z M 2938 1747 Q 2716 1613 2516 1509 L 2247 1841 Q 3244 2341 3963 3078 Q 3669 3369 3353 3841 Q 3028 3344 2638 2969 L 2356 3281 Q 3213 4131 3538 5300 L 3956 5184 Q 3834 4813 3834 4806 L 5250 4806 L 5478 4606 Q 5016 3650 4531 3091 Q 5238 2509 6131 2144 L 5838 1731 Q 5766 1766 5516 1900 L 5459 1931 L 5459 -447 L 5019 -447 L 5019 -128 L 3378 -128 L 3378 -447 L 2938 -447 L 2938 1747 z M 3225 1931 L 5459 1931 Q 5416 1959 5325 2009 Q 4738 2344 4263 2781 Q 3906 2400 3225 1931 z M 5019 1547 L 3378 1547 L 3378 263 L 5019 263 L 5019 1547 z M 3672 4422 Q 3625 4331 3556 4184 Q 3825 3781 4225 3372 Q 4588 3809 4903 4422 L 3672 4422 z " transform="scale(0.015625)"/> <path id="IPAGothic-63a8" d="M 3244 4063 L 4244 4063 Q 4484 4581 4653 5228 L 5125 5100 Q 4913 4484 4691 4063 L 5906 4063 L 5906 3666 L 4647 3666 L 4647 2822 L 5747 2822 L 5747 2438 L 4647 2438 L 4647 1594 L 5747 1594 L 5747 1216 L 4647 1216 L 4647 319 L 6047 319 L 6047 -91 L 3244 -91 L 3244 -481 L 2816 -481 L 2816 3188 L 2791 3128 Q 2581 2744 2366 2463 L 2084 2797 Q 2813 3728 3166 5284 L 3616 5144 Q 3428 4494 3244 4063 z M 3244 319 L 4231 319 L 4231 1216 L 3244 1216 L 3244 319 z M 3244 1594 L 4231 1594 L 4231 2438 L 3244 2438 L 3244 1594 z M 3244 2822 L 4231 2822 L 4231 3666 L 3244 3666 L 3244 2822 z M 1184 4084 L 1184 5313 L 1613 5313 L 1613 4084 L 2328 4084 L 2328 3669 L 1613 3669 L 1613 2241 Q 1997 2341 2334 2453 L 2359 2069 Q 1809 1884 1631 1831 L 1613 1825 L 1613 44 Q 1613 -194 1522 -294 Q 1413 -403 1081 -403 Q 738 -403 519 -366 L 441 97 Q 741 38 978 38 Q 1184 38 1184 219 L 1184 1703 L 1144 1697 Q 738 1584 409 1509 L 275 1941 Q 722 2022 1138 2119 Q 1147 2122 1166 2125 Q 1175 2128 1184 2131 L 1184 3669 L 372 3669 L 372 4084 L 1184 4084 z " transform="scale(0.015625)"/> <path id="IPAGothic-79fb" d="M 4691 2419 L 5844 2419 L 6066 2188 Q 5503 1156 4759 513 Q 4078 -75 2975 -469 L 2681 -97 Q 3684 194 4384 728 Q 4094 1056 3731 1356 Q 3381 1053 2919 819 L 2669 1150 Q 3853 1772 4500 2878 L 4909 2772 Q 4772 2528 4691 2419 z M 4409 2034 Q 4216 1803 4000 1588 Q 4375 1341 4703 1009 Q 5219 1488 5497 2034 L 4409 2034 z M 1350 2328 Q 1009 1334 513 659 L 263 1081 Q 966 2022 1266 3128 L 366 3128 L 366 3531 L 1350 3531 L 1350 4400 Q 919 4322 575 4266 L 366 4644 Q 1506 4806 2381 5144 L 2700 4747 Q 2241 4600 1784 4491 L 1784 3531 L 2619 3531 L 2619 3128 L 1784 3128 L 1784 2688 Q 2303 2266 2722 1803 L 2444 1356 Q 2103 1841 1784 2181 L 1784 -447 L 1350 -447 L 1350 2328 z M 4275 4800 L 5491 4800 L 5709 4609 Q 4759 2809 2872 2047 L 2603 2388 Q 3534 2722 4134 3244 Q 3869 3519 3450 3794 Q 3184 3569 2859 3359 L 2591 3666 Q 3578 4259 4056 5288 L 4478 5191 Q 4403 5034 4275 4800 z M 4019 4416 Q 3856 4194 3700 4038 Q 4128 3759 4372 3553 L 4416 3513 Q 4884 3991 5119 4416 L 4019 4416 z " transform="scale(0.015625)"/> <path id="IPAGothic-904e" d="M 1703 741 Q 1975 363 2503 209 Q 2906 94 3931 94 Q 4897 94 6131 178 Q 6025 -59 5978 -300 Q 4931 -341 4384 -341 Q 2819 -341 2234 -128 Q 1763 44 1525 397 Q 1113 -81 653 -447 L 372 19 Q 900 341 1269 672 L 1269 2303 L 378 2303 L 378 2731 L 1703 2731 L 1703 741 z M 5338 2778 L 2594 2778 L 2594 428 L 2178 428 L 2178 3138 L 2594 3138 L 2594 5025 L 5338 5025 L 5338 3138 L 5753 3138 L 5753 875 Q 5753 597 5638 513 Q 5547 441 5313 441 Q 5019 441 4713 478 L 4659 903 Q 4956 850 5184 850 Q 5338 850 5338 1016 L 5338 2778 z M 4934 3138 L 4934 3784 L 4041 3784 L 4041 3138 L 4934 3138 z M 3663 3138 L 3663 4116 L 4934 4116 L 4934 4666 L 3003 4666 L 3003 3138 L 3663 3138 z M 4750 2350 L 4750 1113 L 3469 1113 L 3469 781 L 3091 781 L 3091 2350 L 4750 2350 z M 3469 2019 L 3469 1453 L 4372 1453 L 4372 2019 L 3469 2019 z M 1525 3775 Q 1053 4353 563 4738 L 878 5056 Q 1497 4566 1869 4122 L 1525 3775 z " transform="scale(0.015625)"/> <path id="IPAGothic-53bb" d="M 3009 2169 Q 3003 2150 2988 2131 Q 2634 1163 2144 344 L 2375 363 Q 3003 400 3963 497 L 4697 575 Q 4322 1025 3909 1419 L 4281 1650 Q 5041 956 5834 -34 L 5431 -347 Q 5347 -234 5200 -47 Q 5038 163 4991 222 Q 3384 -22 959 -213 L 800 269 Q 888 272 1153 288 Q 1428 303 1606 313 L 1656 403 Q 2147 1250 2491 2169 L 447 2169 L 447 2584 L 2931 2584 L 2931 3744 L 959 3744 L 959 4159 L 2931 4159 L 2931 5216 L 3419 5216 L 3419 4159 L 5438 4159 L 5438 3744 L 3419 3744 L 3419 2584 L 5950 2584 L 5950 2169 L 3009 2169 z " transform="scale(0.015625)"/> <path id="IPAGothic-9593" d="M 4450 2566 L 4450 353 L 2375 353 L 2375 -25 L 1953 -25 L 1953 2566 L 4450 2566 z M 4028 2200 L 2375 2200 L 2375 1653 L 4028 1653 L 4028 2200 z M 4028 1300 L 2375 1300 L 2375 719 L 4028 719 L 4028 1300 z M 2913 5019 L 2913 3059 L 1056 3059 L 1056 -447 L 609 -447 L 609 5019 L 2913 5019 z M 1056 4659 L 1056 4206 L 2497 4206 L 2497 4659 L 1056 4659 z M 1056 3881 L 1056 3413 L 2497 3413 L 2497 3881 L 1056 3881 z M 5788 5019 L 5788 91 Q 5788 -225 5641 -331 Q 5525 -409 5231 -409 Q 4800 -409 4481 -366 L 4419 97 Q 4853 38 5128 38 Q 5341 38 5341 244 L 5341 3059 L 3438 3059 L 3438 5019 L 5788 5019 z M 3853 4659 L 3853 4206 L 5341 4206 L 5341 4659 L 3853 4659 z M 3853 3881 L 3853 3413 L 5341 3413 L 5341 3881 L 3853 3881 z " transform="scale(0.015625)"/> </defs> <use href="#IPAGothic-30ec"/> <use href="#IPAGothic-30c3" transform="translate(100 0)"/> <use href="#IPAGothic-30c9" transform="translate(200 0)"/> <use href="#IPAGothic-30fb" transform="translate(300 0)"/> <use href="#IPAGothic-30ac" transform="translate(400 0)"/> <use href="#IPAGothic-30b8" transform="translate(500 0)"/> <use href="#IPAGothic-30a7" transform="translate(600 0)"/> <use href="#IPAGothic-30c3" transform="translate(700 0)"/> <use href="#IPAGothic-30c8" transform="translate(800 0)"/> <use href="#IPAGothic-2f" transform="translate(900 0)"/> <use href="#IPAGothic-4c" transform="translate(950 0)"/> <use href="#IPAGothic-45" transform="translate(1000 0)"/> <use href="#IPAGothic-36" transform="translate(1050 0)"/> <use href="#IPAGothic-2f" transform="translate(1100 0)"/> <use href="#IPAGothic-55" transform="translate(1150 0)"/> <use href="#IPAGothic-52" transform="translate(1200 0)"/> <use href="#IPAGothic-20" transform="translate(1250 0)"/> <use href="#IPAGothic-4fa1" transform="translate(1300 0)"/> <use href="#IPAGothic-683c" transform="translate(1400 0)"/> <use href="#IPAGothic-63a8" transform="translate(1500 0)"/> <use href="#IPAGothic-79fb" transform="translate(1600 0)"/> <use href="#IPAGothic-28" transform="translate(1700 0)"/> <use href="#IPAGothic-904e" transform="translate(1750 0)"/> <use href="#IPAGothic-53bb" transform="translate(1850 0)"/> <use href="#IPAGothic-33" transform="translate(1950 0)"/> <use href="#IPAGothic-30" transform="translate(2000 0)"/> <use href="#IPAGothic-65e5" transform="translate(2050 0)"/> <use href="#IPAGothic-9593" transform="translate(2150 0)"/> <use href="#IPAGothic-29" transform="translate(2250 0)"/> </g> </g> <g id="legend_1"> <g id="patch_7"> <path d="M 640.2012 223.5682 L 702.3152 223.5682 Q 704.3152 223.5682 704.3152 221.5682 L 704.3152 164.7839 Q 704.3152 162.7839 702.3152 162.7839 L 640.2012 162.7839 Q 638.2012 162.7839 638.2012 164.7839 L 638.2012 221.5682 Q 638.2012 223.5682 640.2012 223.5682 z " style="fill: #ffffff; opacity: 0.8; stroke: #cccccc; stroke-linejoin: miter"/> </g> <g id="line2d_81"> <path d="M 642.2012 170.6684 L 652.2012 170.6684 L 662.2012 170.6684 " style="fill: none; stroke: #36cc6a; stroke-width: 1.5; stroke-linecap: square"/> <g> <use href="#m75a8e90659" x="652.6800" y="171.1440" style="fill: #36cc6a; stroke: #36cc6a"/> </g> </g> <g id="text_42"> <!-- 平均値 --> <g transform="translate(670.3452 174.3844) scale(0.09650 -0.1)"> <defs> <path id="IPAGothic-5e73" d="M 3419 4428 L 3419 1941 L 6078 1941 L 6078 1513 L 3419 1513 L 3419 -447 L 2931 -447 L 2931 1513 L 319 1513 L 319 1941 L 2931 1941 L 2931 4428 L 638 4428 L 638 4856 L 5759 4856 L 5759 4428 L 3419 4428 z M 1728 2278 Q 1488 3094 1081 3859 L 1541 4038 Q 1872 3422 2219 2472 L 1728 2278 z M 4134 2425 Q 4506 3138 4813 4128 L 5303 3944 Q 4984 3006 4569 2228 L 4134 2425 z " transform="scale(0.015625)"/> <path id="IPAGothic-5747" d="M 1206 3794 L 1206 5147 L 1659 5147 L 1659 3794 L 2369 3794 L 2369 3372 L 1659 3372 L 1659 1325 Q 2081 1516 2481 1722 L 2566 1313 Q 1556 778 559 397 L 334 838 Q 803 975 1206 1138 L 1206 3372 L 413 3372 L 413 3794 L 1206 3794 z M 3475 4244 L 5844 4244 Q 5834 1131 5619 184 Q 5494 -366 4838 -366 Q 4369 -366 3859 -306 L 3769 184 Q 4241 88 4731 88 Q 5059 88 5147 306 Q 5359 919 5369 3828 L 3316 3828 Q 3013 3119 2466 2472 L 2150 2828 Q 2944 3788 3259 5263 L 3719 5147 Q 3619 4663 3475 4244 z M 2978 2847 L 4681 2847 L 4681 2431 L 2978 2431 L 2978 2847 z M 2559 1044 Q 3747 1338 4838 1797 L 4891 1388 Q 3831 891 2766 588 L 2559 1044 z " transform="scale(0.015625)"/> </defs> <use href="#IPAGothic-5e73"/> <use href="#IPAGothic-5747" transform="translate(100 0)"/> <use href="#IPAGothic-5024" transform="translate(200 0)"/> </g> </g> <g id="line2d_82"> <path d="M 642.2012 185.0284 L 652.2012 185.0284 L 662.2012 185.0284 " style="fill: none; stroke: #ffa500; stroke-width: 1.5; stroke-linecap: square"/> <g> <use href="#ma4aa80e419" x="652.6800" y="185.5440" style="fill: #ffa500; stroke: #ffa500"/> </g> </g> <g id="text_43"> <!-- 中央値 --> <g transform="translate(670.3452 188.7444) scale(0.09650 -0.1)"> <defs> <path id="IPAGothic-4e2d" d="M 2925 3950 L 2925 5209 L 3425 5209 L 3425 3950 L 5613 3950 L 5613 1125 L 5125 1125 L 5125 1594 L 3425 1594 L 3425 -447 L 2925 -447 L 2925 1594 L 1263 1594 L 1263 1094 L 775 1094 L 775 3950 L 2925 3950 z M 1263 3534 L 1263 2009 L 2925 2009 L 2925 3534 L 1263 3534 z M 5125 2009 L 5125 3534 L 3425 3534 L 3425 2009 L 5125 2009 z " transform="scale(0.015625)"/> <path id="IPAGothic-592e" d="M 3578 1947 Q 4238 694 5972 134 L 5634 -294 Q 3847 378 3253 1750 Q 2916 216 809 -403 L 506 16 Q 2547 475 2894 1947 L 353 1947 L 353 2363 L 1256 2363 L 1256 4178 L 2938 4178 L 2938 5216 L 3413 5216 L 3413 4178 L 5141 4178 L 5141 2363 L 6044 2363 L 6044 1947 L 3578 1947 z M 2938 3763 L 1703 3763 L 1703 2363 L 2938 2363 L 2938 3763 z M 3413 3763 L 3413 2363 L 4688 2363 L 4688 3763 L 3413 3763 z " transform="scale(0.015625)"/> </defs> <use href="#IPAGothic-4e2d"/> <use href="#IPAGothic-592e" transform="translate(100 0)"/> <use href="#IPAGothic-5024" transform="translate(200 0)"/> </g> </g> <g id="line2d_83"> <path d="M 642.2012 199.4222 L 652.2012 199.4222 L 662.2012 199.4222 " style="fill: none; stroke: #ff4d4d; stroke-width: 1.5; stroke-linecap: square"/> <g> <use href="#m8326d739d1" x="652.6800" y="199.9440" style="fill: #ff4d4d; stroke: #ff4d4d"/> </g> </g> <g id="text_44"> <!-- 最高値 --> <g transform="translate(670.3452 203.1382) scale(0.09650 -0.1)"> <defs> <path id="IPAGothic-6700" d="M 5106 5050 L 5106 3275 L 1288 3275 L 1288 5050 L 5106 5050 z M 1741 4697 L 1741 4331 L 4659 4331 L 4659 4697 L 1741 4697 z M 1741 4000 L 1741 3622 L 4659 3622 L 4659 4000 L 1741 4000 z M 2925 2528 L 2925 -447 L 2503 -447 L 2503 231 Q 1875 97 525 -75 L 409 359 Q 491 363 609 372 Q 728 381 756 384 L 994 403 L 994 2528 L 384 2528 L 384 2900 L 6016 2900 L 6016 2528 L 2925 2528 z M 2503 2528 L 1403 2528 L 1403 2088 L 2503 2088 L 2503 2528 z M 2503 1763 L 1403 1763 L 1403 1309 L 2503 1309 L 2503 1763 z M 2503 984 L 1403 984 L 1403 434 L 1763 472 Q 2159 500 2503 550 L 2503 984 z M 4844 588 Q 5350 225 6047 -9 L 5753 -419 Q 5066 -128 4556 288 Q 4000 -241 3281 -534 L 3006 -163 Q 3738 84 4263 563 Q 3722 1141 3463 1803 L 3084 1803 L 3084 2169 L 5428 2169 L 5656 1963 Q 5328 1178 4881 638 L 4844 588 z M 4538 850 Q 4884 1275 5119 1803 L 3872 1803 Q 4113 1275 4538 850 z " transform="scale(0.015625)"/> <path id="IPAGothic-9ad8" d="M 4481 1588 L 4481 366 L 2319 366 L 2319 0 L 1891 0 L 1891 1588 L 4481 1588 z M 4053 1247 L 2319 1247 L 2319 706 L 4053 706 L 4053 1247 z M 3419 4641 L 5916 4641 L 5916 4263 L 481 4263 L 481 4641 L 2938 4641 L 2938 5313 L 3419 5313 L 3419 4641 z M 4884 3878 L 4884 2694 L 1513 2694 L 1513 3878 L 4884 3878 z M 1959 3531 L 1959 3041 L 4438 3041 L 4438 3531 L 1959 3531 z M 5684 2309 L 5684 103 Q 5684 -378 5091 -378 Q 4703 -378 4316 -350 L 4253 109 Q 4706 44 5006 44 Q 5231 44 5231 250 L 5231 1944 L 1166 1944 L 1166 -447 L 713 -447 L 713 2309 L 5684 2309 z " transform="scale(0.015625)"/> </defs> <use href="#IPAGothic-6700"/> <use href="#IPAGothic-9ad8" transform="translate(100 0)"/> <use href="#IPAGothic-5024" transform="translate(200 0)"/> </g> </g> <g id="line2d_84"> <path d="M 642.2012 213.9172 L 652.2012 213.9172 L 662.2012 213.9172 " style="fill: none; stroke: #4d9aff; stroke-width: 1.5; stroke-linecap: square"/> <g> <use href="#m189335c1d6" x="652.6800" y="214.3440" style="fill: #4d9aff; stroke: #4d9aff"/> </g> </g> <g id="text_45"> <!-- 最安値 --> <g transform="translate(670.3452 217.6332) scale(0.09650 -0.1)"> <defs> <path id="IPAGothic-5b89" d="M 4728 2381 Q 4484 1484 3969 872 Q 5038 403 5778 31 L 5397 -353 Q 4466 163 3616 538 Q 2703 -194 838 -403 L 550 31 Q 2272 166 3150 738 Q 2625 963 1925 1216 Q 1863 1119 1663 831 L 1259 1050 Q 1684 1650 2088 2381 L 416 2381 L 416 2784 L 2284 2784 Q 2563 3388 2713 3828 L 3169 3706 Q 2972 3178 2791 2784 L 5984 2784 L 5984 2381 L 4728 2381 z M 4244 2381 L 2600 2381 Q 2459 2097 2209 1659 L 2150 1563 Q 2750 1359 3366 1113 L 3525 1050 Q 4019 1572 4244 2381 z M 3419 4428 L 5753 4428 L 5753 3163 L 5278 3163 L 5278 4025 L 1116 4025 L 1116 3163 L 641 3163 L 641 4428 L 2931 4428 L 2931 5313 L 3419 5313 L 3419 4428 z " transform="scale(0.015625)"/> </defs> <use href="#IPAGothic-6700"/> <use href="#IPAGothic-5b89" transform="translate(100 0)"/> <use href="#IPAGothic-5024" transform="translate(200 0)"/> </g> </g> </g> </g> </g> <defs> <clipPath id="p025470a031"> <rect x="51.4944" y="26.640144" width="657.6768" height="331.919856"/> </clipPath> </defs> </svg> </body></html>
